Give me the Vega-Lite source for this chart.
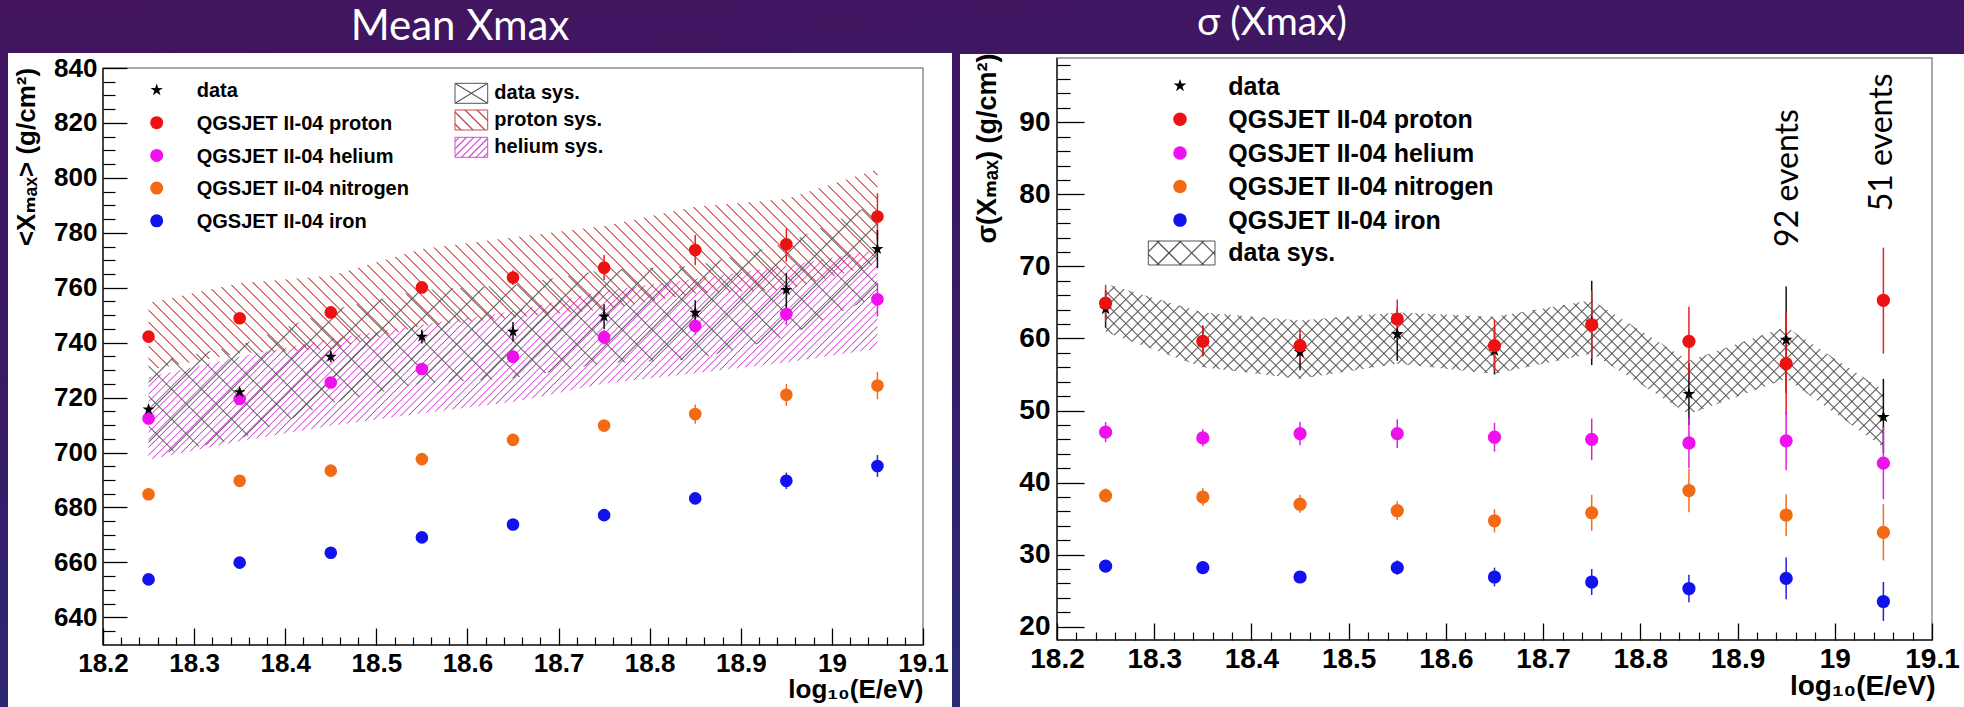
{
"$schema":"https://vega.github.io/schema/vega-lite/v6.json",
"background":"#3d1760",
"autosize":{"type":"none"},
"padding":0,
"width":1964,"height":707,
"config":{"view":{"stroke":null},"axis":{"zindex":1}},
"datasets":{
"mean_points":[
{"series":"QGSJET II-04 proton","x":18.25,"y":742.2,"lo":741.0,"hi":743.4},
{"series":"QGSJET II-04 proton","x":18.35,"y":748.9,"lo":747.7,"hi":750.1},
{"series":"QGSJET II-04 proton","x":18.45,"y":751.0,"lo":749.6,"hi":752.4},
{"series":"QGSJET II-04 proton","x":18.55,"y":760.1,"lo":758.5,"hi":761.7},
{"series":"QGSJET II-04 proton","x":18.65,"y":763.7,"lo":761.0,"hi":766.4},
{"series":"QGSJET II-04 proton","x":18.75,"y":767.3,"lo":762.8,"hi":771.9},
{"series":"QGSJET II-04 proton","x":18.85,"y":773.7,"lo":768.3,"hi":779.2},
{"series":"QGSJET II-04 proton","x":18.95,"y":775.8,"lo":769.5,"hi":781.6},
{"series":"QGSJET II-04 proton","x":19.05,"y":785.9,"lo":777.4,"hi":794.4},
{"series":"QGSJET II-04 helium","x":18.25,"y":712.4,"lo":710.9,"hi":713.9},
{"series":"QGSJET II-04 helium","x":18.35,"y":719.5,"lo":718.0,"hi":721.0},
{"series":"QGSJET II-04 helium","x":18.45,"y":725.5,"lo":723.8,"hi":727.2},
{"series":"QGSJET II-04 helium","x":18.55,"y":730.4,"lo":728.6,"hi":732.2},
{"series":"QGSJET II-04 helium","x":18.65,"y":734.9,"lo":732.6,"hi":737.2},
{"series":"QGSJET II-04 helium","x":18.75,"y":742.0,"lo":739.3,"hi":744.7},
{"series":"QGSJET II-04 helium","x":18.85,"y":746.1,"lo":743.0,"hi":749.2},
{"series":"QGSJET II-04 helium","x":18.95,"y":750.4,"lo":746.5,"hi":754.3},
{"series":"QGSJET II-04 helium","x":19.05,"y":755.8,"lo":749.5,"hi":761.6},
{"series":"QGSJET II-04 nitrogen","x":18.25,"y":684.8,"lo":683.8,"hi":685.8},
{"series":"QGSJET II-04 nitrogen","x":18.35,"y":689.7,"lo":688.6,"hi":690.8},
{"series":"QGSJET II-04 nitrogen","x":18.45,"y":693.4,"lo":692.2,"hi":694.6},
{"series":"QGSJET II-04 nitrogen","x":18.55,"y":697.6,"lo":696.3,"hi":698.9},
{"series":"QGSJET II-04 nitrogen","x":18.65,"y":704.6,"lo":703.2,"hi":706.0},
{"series":"QGSJET II-04 nitrogen","x":18.75,"y":709.8,"lo":707.8,"hi":711.8},
{"series":"QGSJET II-04 nitrogen","x":18.85,"y":714.0,"lo":710.5,"hi":717.5},
{"series":"QGSJET II-04 nitrogen","x":18.95,"y":721.0,"lo":717.0,"hi":725.0},
{"series":"QGSJET II-04 nitrogen","x":19.05,"y":724.4,"lo":719.4,"hi":729.4},
{"series":"QGSJET II-04 iron","x":18.25,"y":653.8,"lo":652.8,"hi":654.8},
{"series":"QGSJET II-04 iron","x":18.35,"y":659.9,"lo":658.9,"hi":660.9},
{"series":"QGSJET II-04 iron","x":18.45,"y":663.5,"lo":662.5,"hi":664.5},
{"series":"QGSJET II-04 iron","x":18.55,"y":669.1,"lo":668.0,"hi":670.2},
{"series":"QGSJET II-04 iron","x":18.65,"y":673.8,"lo":672.6,"hi":675.0},
{"series":"QGSJET II-04 iron","x":18.75,"y":677.2,"lo":675.8,"hi":678.6},
{"series":"QGSJET II-04 iron","x":18.85,"y":683.3,"lo":681.3,"hi":685.3},
{"series":"QGSJET II-04 iron","x":18.95,"y":689.7,"lo":686.7,"hi":692.7},
{"series":"QGSJET II-04 iron","x":19.05,"y":695.1,"lo":691.1,"hi":699.1},
{"series":"data","x":18.25,"y":715.7,"lo":714.2,"hi":717.2},
{"series":"data","x":18.35,"y":722.0,"lo":720.5,"hi":723.5},
{"series":"data","x":18.45,"y":734.9,"lo":732.9,"hi":736.9},
{"series":"data","x":18.55,"y":742.2,"lo":739.7,"hi":744.7},
{"series":"data","x":18.65,"y":744.0,"lo":740.5,"hi":747.5},
{"series":"data","x":18.75,"y":749.5,"lo":745.0,"hi":754.0},
{"series":"data","x":18.85,"y":750.9,"lo":746.4,"hi":755.4},
{"series":"data","x":18.95,"y":759.2,"lo":752.5,"hi":765.3},
{"series":"data","x":19.05,"y":774.1,"lo":767.1,"hi":781.0}
],
"sigma_points":[
{"series":"data","x":18.25,"y":64.1,"lo":61.5,"hi":66.7},
{"series":"data","x":18.35,"y":59.7,"lo":57.6,"hi":61.8},
{"series":"data","x":18.45,"y":58.1,"lo":55.6,"hi":60.6},
{"series":"data","x":18.55,"y":60.6,"lo":56.9,"hi":64.3},
{"series":"data","x":18.65,"y":58.3,"lo":55.0,"hi":61.6},
{"series":"data","x":18.75,"y":62.3,"lo":56.3,"hi":68.0},
{"series":"data","x":18.85,"y":52.3,"lo":48.0,"hi":56.6},
{"series":"data","x":18.95,"y":59.8,"lo":52.4,"hi":67.2},
{"series":"data","x":19.05,"y":49.1,"lo":44.1,"hi":54.4},
{"series":"QGSJET II-04 proton","x":18.25,"y":64.9,"lo":62.3,"hi":67.4},
{"series":"QGSJET II-04 proton","x":18.35,"y":59.6,"lo":57.5,"hi":61.7},
{"series":"QGSJET II-04 proton","x":18.45,"y":59.0,"lo":56.9,"hi":61.3},
{"series":"QGSJET II-04 proton","x":18.55,"y":62.7,"lo":60.1,"hi":65.4},
{"series":"QGSJET II-04 proton","x":18.65,"y":59.0,"lo":55.4,"hi":62.6},
{"series":"QGSJET II-04 proton","x":18.75,"y":61.9,"lo":57.2,"hi":66.6},
{"series":"QGSJET II-04 proton","x":18.85,"y":59.6,"lo":54.7,"hi":64.4},
{"series":"QGSJET II-04 proton","x":18.95,"y":56.5,"lo":49.4,"hi":63.6},
{"series":"QGSJET II-04 proton","x":19.05,"y":65.3,"lo":57.9,"hi":72.6},
{"series":"QGSJET II-04 helium","x":18.25,"y":47.0,"lo":45.6,"hi":48.4},
{"series":"QGSJET II-04 helium","x":18.35,"y":46.2,"lo":45.0,"hi":47.4},
{"series":"QGSJET II-04 helium","x":18.45,"y":46.8,"lo":45.2,"hi":48.4},
{"series":"QGSJET II-04 helium","x":18.55,"y":46.8,"lo":44.8,"hi":48.8},
{"series":"QGSJET II-04 helium","x":18.65,"y":46.3,"lo":44.3,"hi":48.3},
{"series":"QGSJET II-04 helium","x":18.75,"y":46.0,"lo":43.1,"hi":48.9},
{"series":"QGSJET II-04 helium","x":18.85,"y":45.5,"lo":42.0,"hi":49.0},
{"series":"QGSJET II-04 helium","x":18.95,"y":45.8,"lo":41.7,"hi":49.9},
{"series":"QGSJET II-04 helium","x":19.05,"y":42.7,"lo":37.7,"hi":47.7},
{"series":"QGSJET II-04 nitrogen","x":18.25,"y":38.2,"lo":37.2,"hi":39.2},
{"series":"QGSJET II-04 nitrogen","x":18.35,"y":38.0,"lo":36.8,"hi":39.2},
{"series":"QGSJET II-04 nitrogen","x":18.45,"y":37.0,"lo":35.8,"hi":38.3},
{"series":"QGSJET II-04 nitrogen","x":18.55,"y":36.1,"lo":34.8,"hi":37.4},
{"series":"QGSJET II-04 nitrogen","x":18.65,"y":34.7,"lo":33.1,"hi":36.3},
{"series":"QGSJET II-04 nitrogen","x":18.75,"y":35.8,"lo":33.3,"hi":38.3},
{"series":"QGSJET II-04 nitrogen","x":18.85,"y":38.9,"lo":35.9,"hi":41.9},
{"series":"QGSJET II-04 nitrogen","x":18.95,"y":35.5,"lo":32.6,"hi":38.4},
{"series":"QGSJET II-04 nitrogen","x":19.05,"y":33.1,"lo":29.2,"hi":37.0},
{"series":"QGSJET II-04 iron","x":18.25,"y":28.4,"lo":27.9,"hi":28.9},
{"series":"QGSJET II-04 iron","x":18.35,"y":28.2,"lo":27.7,"hi":28.7},
{"series":"QGSJET II-04 iron","x":18.45,"y":26.9,"lo":26.4,"hi":27.4},
{"series":"QGSJET II-04 iron","x":18.55,"y":28.2,"lo":27.2,"hi":29.2},
{"series":"QGSJET II-04 iron","x":18.65,"y":26.9,"lo":25.6,"hi":28.2},
{"series":"QGSJET II-04 iron","x":18.75,"y":26.2,"lo":24.4,"hi":28.0},
{"series":"QGSJET II-04 iron","x":18.85,"y":25.3,"lo":23.4,"hi":27.2},
{"series":"QGSJET II-04 iron","x":18.95,"y":26.7,"lo":23.8,"hi":29.6},
{"series":"QGSJET II-04 iron","x":19.05,"y":23.5,"lo":20.8,"hi":26.2}
],
"mean_data_sys":[
{"x":18.25,"lo":698.7,"hi":732.7},{"x":18.35,"lo":705.0,"hi":739.0},{"x":18.45,"lo":717.9,"hi":751.9},
{"x":18.55,"lo":725.2,"hi":759.2},{"x":18.65,"lo":727.0,"hi":761.0},{"x":18.75,"lo":732.5,"hi":766.5},
{"x":18.85,"lo":733.9,"hi":767.9},{"x":18.95,"lo":742.2,"hi":776.2},{"x":19.05,"lo":757.1,"hi":791.1}
],
"mean_proton_sys":[
{"x":18.25,"lo":730.0,"hi":754.4},{"x":18.35,"lo":736.1,"hi":761.7},{"x":18.45,"lo":737.6,"hi":764.4},
{"x":18.55,"lo":746.1,"hi":774.1},{"x":18.65,"lo":749.1,"hi":778.3},{"x":18.75,"lo":752.1,"hi":782.5},
{"x":18.85,"lo":757.9,"hi":789.5},{"x":18.95,"lo":759.3,"hi":792.3},{"x":19.05,"lo":768.7,"hi":803.1}
],
"mean_helium_sys":[
{"x":18.25,"lo":697.4,"hi":727.4},{"x":18.35,"lo":704.1,"hi":734.9},{"x":18.45,"lo":709.7,"hi":741.3},
{"x":18.55,"lo":714.3,"hi":746.5},{"x":18.65,"lo":718.4,"hi":751.4},{"x":18.75,"lo":725.1,"hi":758.9},
{"x":18.85,"lo":728.9,"hi":763.3},{"x":18.95,"lo":732.8,"hi":768.0},{"x":19.05,"lo":737.8,"hi":773.8}
],
"sigma_data_sys":[
{"x":18.25,"lo":60.9,"hi":67.6},{"x":18.35,"lo":56.0,"hi":63.6},{"x":18.45,"lo":54.4,"hi":62.5},
{"x":18.55,"lo":56.5,"hi":63.6},{"x":18.65,"lo":55.1,"hi":63.0},{"x":18.75,"lo":57.9,"hi":65.3},
{"x":18.85,"lo":49.5,"hi":56.9},{"x":18.95,"lo":54.4,"hi":61.6},{"x":19.05,"lo":44.9,"hi":52.8}
]
},
"resolve":{"scale":{"x":"independent","y":"independent","color":"independent","stroke":"independent"},"axis":{"x":"independent","y":"independent"}},
"layer":[
{
"resolve":{"axis":{"x":"independent","y":"independent"}},
"layer":[
{"data":{"values":[{}]},"mark":{"type":"rect","fill":{"gradient":"linear","x1":0,"y1":0,"x2":0.3,"y2":1,"stops":[{"offset":0,"color":"#43145f"},{"offset":0.5,"color":"#3a1a66"},{"offset":1,"color":"#2a2b74"}]}},"encoding":{"x":{"datum":18.0,"type":"quantitative","scale":{"domain":[18.08695,20.24256],"nice":false,"zero":false},"axis":null},"x2":{"datum":20.4},"y":{"datum":870,"type":"quantitative","scale":{"domain":[607.341,864.759],"nice":false,"zero":false},"axis":null},"y2":{"datum":600}}},
{"data":{"values":[{}]},"mark":{"type":"rect","fill":"#ffffff"},"encoding":{"x":{"datum":18.09573,"type":"quantitative","scale":{"domain":[18.08695,20.24256],"nice":false,"zero":false},"axis":null},"x2":{"datum":19.13183},"y":{"datum":845.46,"type":"quantitative","scale":{"domain":[607.341,864.759],"nice":false,"zero":false},"axis":null},"y2":{"datum":600}}},
{"data":{"name":"mean_helium_sys"},"mark":{"type":"area","fill":{"gradient":"linear","x1":0,"y1":0,"x2":1.2036,"y2":0.3465,"stops":[
{"offset":0,"color":"#d23cd2"},{"offset":0.0012,"color":"rgba(210,60,210,0)"},{"offset":0.0068,"color":"rgba(210,60,210,0)"},
{"offset":0.008,"color":"#d23cd2"},{"offset":0.0092,"color":"rgba(210,60,210,0)"},{"offset":0.0148,"color":"rgba(210,60,210,0)"},
{"offset":0.016,"color":"#d23cd2"},{"offset":0.0172,"color":"rgba(210,60,210,0)"},{"offset":0.0228,"color":"rgba(210,60,210,0)"},
{"offset":0.024,"color":"#d23cd2"},{"offset":0.0252,"color":"rgba(210,60,210,0)"},{"offset":0.0308,"color":"rgba(210,60,210,0)"},
{"offset":0.032,"color":"#d23cd2"},{"offset":0.0332,"color":"rgba(210,60,210,0)"},{"offset":0.0388,"color":"rgba(210,60,210,0)"},
{"offset":0.04,"color":"#d23cd2"},{"offset":0.0412,"color":"rgba(210,60,210,0)"},{"offset":0.0468,"color":"rgba(210,60,210,0)"},
{"offset":0.048,"color":"#d23cd2"},{"offset":0.0492,"color":"rgba(210,60,210,0)"},{"offset":0.0548,"color":"rgba(210,60,210,0)"},
{"offset":0.056,"color":"#d23cd2"},{"offset":0.0572,"color":"rgba(210,60,210,0)"},{"offset":0.0628,"color":"rgba(210,60,210,0)"},
{"offset":0.064,"color":"#d23cd2"},{"offset":0.0652,"color":"rgba(210,60,210,0)"},{"offset":0.0708,"color":"rgba(210,60,210,0)"},
{"offset":0.072,"color":"#d23cd2"},{"offset":0.0732,"color":"rgba(210,60,210,0)"},{"offset":0.0788,"color":"rgba(210,60,210,0)"},
{"offset":0.08,"color":"#d23cd2"},{"offset":0.0812,"color":"rgba(210,60,210,0)"},{"offset":0.0868,"color":"rgba(210,60,210,0)"},
{"offset":0.088,"color":"#d23cd2"},{"offset":0.0892,"color":"rgba(210,60,210,0)"},{"offset":0.0948,"color":"rgba(210,60,210,0)"},
{"offset":0.096,"color":"#d23cd2"},{"offset":0.0972,"color":"rgba(210,60,210,0)"},{"offset":0.1028,"color":"rgba(210,60,210,0)"},
{"offset":0.104,"color":"#d23cd2"},{"offset":0.1052,"color":"rgba(210,60,210,0)"},{"offset":0.1108,"color":"rgba(210,60,210,0)"},
{"offset":0.112,"color":"#d23cd2"},{"offset":0.1132,"color":"rgba(210,60,210,0)"},{"offset":0.1188,"color":"rgba(210,60,210,0)"},
{"offset":0.12,"color":"#d23cd2"},{"offset":0.1212,"color":"rgba(210,60,210,0)"},{"offset":0.1268,"color":"rgba(210,60,210,0)"},
{"offset":0.128,"color":"#d23cd2"},{"offset":0.1292,"color":"rgba(210,60,210,0)"},{"offset":0.1348,"color":"rgba(210,60,210,0)"},
{"offset":0.136,"color":"#d23cd2"},{"offset":0.1372,"color":"rgba(210,60,210,0)"},{"offset":0.1428,"color":"rgba(210,60,210,0)"},
{"offset":0.144,"color":"#d23cd2"},{"offset":0.1452,"color":"rgba(210,60,210,0)"},{"offset":0.1508,"color":"rgba(210,60,210,0)"},
{"offset":0.152,"color":"#d23cd2"},{"offset":0.1532,"color":"rgba(210,60,210,0)"},{"offset":0.1588,"color":"rgba(210,60,210,0)"},
{"offset":0.16,"color":"#d23cd2"},{"offset":0.1612,"color":"rgba(210,60,210,0)"},{"offset":0.1668,"color":"rgba(210,60,210,0)"},
{"offset":0.168,"color":"#d23cd2"},{"offset":0.1692,"color":"rgba(210,60,210,0)"},{"offset":0.1748,"color":"rgba(210,60,210,0)"},
{"offset":0.176,"color":"#d23cd2"},{"offset":0.1772,"color":"rgba(210,60,210,0)"},{"offset":0.1828,"color":"rgba(210,60,210,0)"},
{"offset":0.184,"color":"#d23cd2"},{"offset":0.1852,"color":"rgba(210,60,210,0)"},{"offset":0.1908,"color":"rgba(210,60,210,0)"},
{"offset":0.192,"color":"#d23cd2"},{"offset":0.1932,"color":"rgba(210,60,210,0)"},{"offset":0.1988,"color":"rgba(210,60,210,0)"},
{"offset":0.2,"color":"#d23cd2"},{"offset":0.2012,"color":"rgba(210,60,210,0)"},{"offset":0.2068,"color":"rgba(210,60,210,0)"},
{"offset":0.208,"color":"#d23cd2"},{"offset":0.2092,"color":"rgba(210,60,210,0)"},{"offset":0.2148,"color":"rgba(210,60,210,0)"},
{"offset":0.216,"color":"#d23cd2"},{"offset":0.2172,"color":"rgba(210,60,210,0)"},{"offset":0.2228,"color":"rgba(210,60,210,0)"},
{"offset":0.224,"color":"#d23cd2"},{"offset":0.2252,"color":"rgba(210,60,210,0)"},{"offset":0.2308,"color":"rgba(210,60,210,0)"},
{"offset":0.232,"color":"#d23cd2"},{"offset":0.2332,"color":"rgba(210,60,210,0)"},{"offset":0.2388,"color":"rgba(210,60,210,0)"},
{"offset":0.24,"color":"#d23cd2"},{"offset":0.2412,"color":"rgba(210,60,210,0)"},{"offset":0.2468,"color":"rgba(210,60,210,0)"},
{"offset":0.248,"color":"#d23cd2"},{"offset":0.2492,"color":"rgba(210,60,210,0)"},{"offset":0.2548,"color":"rgba(210,60,210,0)"},
{"offset":0.256,"color":"#d23cd2"},{"offset":0.2572,"color":"rgba(210,60,210,0)"},{"offset":0.2628,"color":"rgba(210,60,210,0)"},
{"offset":0.264,"color":"#d23cd2"},{"offset":0.2652,"color":"rgba(210,60,210,0)"},{"offset":0.2708,"color":"rgba(210,60,210,0)"},
{"offset":0.272,"color":"#d23cd2"},{"offset":0.2732,"color":"rgba(210,60,210,0)"},{"offset":0.2788,"color":"rgba(210,60,210,0)"},
{"offset":0.28,"color":"#d23cd2"},{"offset":0.2812,"color":"rgba(210,60,210,0)"},{"offset":0.2868,"color":"rgba(210,60,210,0)"},
{"offset":0.288,"color":"#d23cd2"},{"offset":0.2892,"color":"rgba(210,60,210,0)"},{"offset":0.2948,"color":"rgba(210,60,210,0)"},
{"offset":0.296,"color":"#d23cd2"},{"offset":0.2972,"color":"rgba(210,60,210,0)"},{"offset":0.3028,"color":"rgba(210,60,210,0)"},
{"offset":0.304,"color":"#d23cd2"},{"offset":0.3052,"color":"rgba(210,60,210,0)"},{"offset":0.3108,"color":"rgba(210,60,210,0)"},
{"offset":0.312,"color":"#d23cd2"},{"offset":0.3132,"color":"rgba(210,60,210,0)"},{"offset":0.3188,"color":"rgba(210,60,210,0)"},
{"offset":0.32,"color":"#d23cd2"},{"offset":0.3212,"color":"rgba(210,60,210,0)"},{"offset":0.3268,"color":"rgba(210,60,210,0)"},
{"offset":0.328,"color":"#d23cd2"},{"offset":0.3292,"color":"rgba(210,60,210,0)"},{"offset":0.3348,"color":"rgba(210,60,210,0)"},
{"offset":0.336,"color":"#d23cd2"},{"offset":0.3372,"color":"rgba(210,60,210,0)"},{"offset":0.3428,"color":"rgba(210,60,210,0)"},
{"offset":0.344,"color":"#d23cd2"},{"offset":0.3452,"color":"rgba(210,60,210,0)"},{"offset":0.3508,"color":"rgba(210,60,210,0)"},
{"offset":0.352,"color":"#d23cd2"},{"offset":0.3532,"color":"rgba(210,60,210,0)"},{"offset":0.3588,"color":"rgba(210,60,210,0)"},
{"offset":0.36,"color":"#d23cd2"},{"offset":0.3612,"color":"rgba(210,60,210,0)"},{"offset":0.3668,"color":"rgba(210,60,210,0)"},
{"offset":0.368,"color":"#d23cd2"},{"offset":0.3692,"color":"rgba(210,60,210,0)"},{"offset":0.3748,"color":"rgba(210,60,210,0)"},
{"offset":0.376,"color":"#d23cd2"},{"offset":0.3772,"color":"rgba(210,60,210,0)"},{"offset":0.3828,"color":"rgba(210,60,210,0)"},
{"offset":0.384,"color":"#d23cd2"},{"offset":0.3852,"color":"rgba(210,60,210,0)"},{"offset":0.3908,"color":"rgba(210,60,210,0)"},
{"offset":0.392,"color":"#d23cd2"},{"offset":0.3932,"color":"rgba(210,60,210,0)"},{"offset":0.3988,"color":"rgba(210,60,210,0)"},
{"offset":0.4,"color":"#d23cd2"},{"offset":0.4012,"color":"rgba(210,60,210,0)"},{"offset":0.4068,"color":"rgba(210,60,210,0)"},
{"offset":0.408,"color":"#d23cd2"},{"offset":0.4092,"color":"rgba(210,60,210,0)"},{"offset":0.4148,"color":"rgba(210,60,210,0)"},
{"offset":0.416,"color":"#d23cd2"},{"offset":0.4172,"color":"rgba(210,60,210,0)"},{"offset":0.4228,"color":"rgba(210,60,210,0)"},
{"offset":0.424,"color":"#d23cd2"},{"offset":0.4252,"color":"rgba(210,60,210,0)"},{"offset":0.4308,"color":"rgba(210,60,210,0)"},
{"offset":0.432,"color":"#d23cd2"},{"offset":0.4332,"color":"rgba(210,60,210,0)"},{"offset":0.4388,"color":"rgba(210,60,210,0)"},
{"offset":0.44,"color":"#d23cd2"},{"offset":0.4412,"color":"rgba(210,60,210,0)"},{"offset":0.4468,"color":"rgba(210,60,210,0)"},
{"offset":0.448,"color":"#d23cd2"},{"offset":0.4492,"color":"rgba(210,60,210,0)"},{"offset":0.4548,"color":"rgba(210,60,210,0)"},
{"offset":0.456,"color":"#d23cd2"},{"offset":0.4572,"color":"rgba(210,60,210,0)"},{"offset":0.4628,"color":"rgba(210,60,210,0)"},
{"offset":0.464,"color":"#d23cd2"},{"offset":0.4652,"color":"rgba(210,60,210,0)"},{"offset":0.4708,"color":"rgba(210,60,210,0)"},
{"offset":0.472,"color":"#d23cd2"},{"offset":0.4732,"color":"rgba(210,60,210,0)"},{"offset":0.4788,"color":"rgba(210,60,210,0)"},
{"offset":0.48,"color":"#d23cd2"},{"offset":0.4812,"color":"rgba(210,60,210,0)"},{"offset":0.4868,"color":"rgba(210,60,210,0)"},
{"offset":0.488,"color":"#d23cd2"},{"offset":0.4892,"color":"rgba(210,60,210,0)"},{"offset":0.4948,"color":"rgba(210,60,210,0)"},
{"offset":0.496,"color":"#d23cd2"},{"offset":0.4972,"color":"rgba(210,60,210,0)"},{"offset":0.5028,"color":"rgba(210,60,210,0)"},
{"offset":0.504,"color":"#d23cd2"},{"offset":0.5052,"color":"rgba(210,60,210,0)"},{"offset":0.5108,"color":"rgba(210,60,210,0)"},
{"offset":0.512,"color":"#d23cd2"},{"offset":0.5132,"color":"rgba(210,60,210,0)"},{"offset":0.5188,"color":"rgba(210,60,210,0)"},
{"offset":0.52,"color":"#d23cd2"},{"offset":0.5212,"color":"rgba(210,60,210,0)"},{"offset":0.5268,"color":"rgba(210,60,210,0)"},
{"offset":0.528,"color":"#d23cd2"},{"offset":0.5292,"color":"rgba(210,60,210,0)"},{"offset":0.5348,"color":"rgba(210,60,210,0)"},
{"offset":0.536,"color":"#d23cd2"},{"offset":0.5372,"color":"rgba(210,60,210,0)"},{"offset":0.5428,"color":"rgba(210,60,210,0)"},
{"offset":0.544,"color":"#d23cd2"},{"offset":0.5452,"color":"rgba(210,60,210,0)"},{"offset":0.5508,"color":"rgba(210,60,210,0)"},
{"offset":0.552,"color":"#d23cd2"},{"offset":0.5532,"color":"rgba(210,60,210,0)"},{"offset":0.5588,"color":"rgba(210,60,210,0)"},
{"offset":0.56,"color":"#d23cd2"},{"offset":0.5612,"color":"rgba(210,60,210,0)"},{"offset":0.5668,"color":"rgba(210,60,210,0)"},
{"offset":0.568,"color":"#d23cd2"},{"offset":0.5692,"color":"rgba(210,60,210,0)"},{"offset":0.5748,"color":"rgba(210,60,210,0)"},
{"offset":0.576,"color":"#d23cd2"},{"offset":0.5772,"color":"rgba(210,60,210,0)"},{"offset":0.5828,"color":"rgba(210,60,210,0)"},
{"offset":0.584,"color":"#d23cd2"},{"offset":0.5852,"color":"rgba(210,60,210,0)"},{"offset":0.5908,"color":"rgba(210,60,210,0)"},
{"offset":0.592,"color":"#d23cd2"},{"offset":0.5932,"color":"rgba(210,60,210,0)"},{"offset":0.5988,"color":"rgba(210,60,210,0)"},
{"offset":0.6,"color":"#d23cd2"},{"offset":0.6012,"color":"rgba(210,60,210,0)"},{"offset":0.6068,"color":"rgba(210,60,210,0)"},
{"offset":0.608,"color":"#d23cd2"},{"offset":0.6092,"color":"rgba(210,60,210,0)"},{"offset":0.6148,"color":"rgba(210,60,210,0)"},
{"offset":0.616,"color":"#d23cd2"},{"offset":0.6172,"color":"rgba(210,60,210,0)"},{"offset":0.6228,"color":"rgba(210,60,210,0)"},
{"offset":0.624,"color":"#d23cd2"},{"offset":0.6252,"color":"rgba(210,60,210,0)"},{"offset":0.6308,"color":"rgba(210,60,210,0)"},
{"offset":0.632,"color":"#d23cd2"},{"offset":0.6332,"color":"rgba(210,60,210,0)"},{"offset":0.6388,"color":"rgba(210,60,210,0)"},
{"offset":0.64,"color":"#d23cd2"},{"offset":0.6412,"color":"rgba(210,60,210,0)"},{"offset":0.6468,"color":"rgba(210,60,210,0)"},
{"offset":0.648,"color":"#d23cd2"},{"offset":0.6492,"color":"rgba(210,60,210,0)"},{"offset":0.6548,"color":"rgba(210,60,210,0)"},
{"offset":0.656,"color":"#d23cd2"},{"offset":0.6572,"color":"rgba(210,60,210,0)"},{"offset":0.6628,"color":"rgba(210,60,210,0)"},
{"offset":0.664,"color":"#d23cd2"},{"offset":0.6652,"color":"rgba(210,60,210,0)"},{"offset":0.6708,"color":"rgba(210,60,210,0)"},
{"offset":0.672,"color":"#d23cd2"},{"offset":0.6732,"color":"rgba(210,60,210,0)"},{"offset":0.6788,"color":"rgba(210,60,210,0)"},
{"offset":0.68,"color":"#d23cd2"},{"offset":0.6812,"color":"rgba(210,60,210,0)"},{"offset":0.6868,"color":"rgba(210,60,210,0)"},
{"offset":0.688,"color":"#d23cd2"},{"offset":0.6892,"color":"rgba(210,60,210,0)"},{"offset":0.6948,"color":"rgba(210,60,210,0)"},
{"offset":0.696,"color":"#d23cd2"},{"offset":0.6972,"color":"rgba(210,60,210,0)"},{"offset":0.7028,"color":"rgba(210,60,210,0)"},
{"offset":0.704,"color":"#d23cd2"},{"offset":0.7052,"color":"rgba(210,60,210,0)"},{"offset":0.7108,"color":"rgba(210,60,210,0)"},
{"offset":0.712,"color":"#d23cd2"},{"offset":0.7132,"color":"rgba(210,60,210,0)"},{"offset":0.7188,"color":"rgba(210,60,210,0)"},
{"offset":0.72,"color":"#d23cd2"},{"offset":0.7212,"color":"rgba(210,60,210,0)"},{"offset":0.7268,"color":"rgba(210,60,210,0)"},
{"offset":0.728,"color":"#d23cd2"},{"offset":0.7292,"color":"rgba(210,60,210,0)"},{"offset":0.7348,"color":"rgba(210,60,210,0)"},
{"offset":0.736,"color":"#d23cd2"},{"offset":0.7372,"color":"rgba(210,60,210,0)"},{"offset":0.7428,"color":"rgba(210,60,210,0)"},
{"offset":0.744,"color":"#d23cd2"},{"offset":0.7452,"color":"rgba(210,60,210,0)"},{"offset":0.7508,"color":"rgba(210,60,210,0)"},
{"offset":0.752,"color":"#d23cd2"},{"offset":0.7532,"color":"rgba(210,60,210,0)"},{"offset":0.7588,"color":"rgba(210,60,210,0)"},
{"offset":0.76,"color":"#d23cd2"},{"offset":0.7612,"color":"rgba(210,60,210,0)"},{"offset":0.7668,"color":"rgba(210,60,210,0)"},
{"offset":0.768,"color":"#d23cd2"},{"offset":0.7692,"color":"rgba(210,60,210,0)"},{"offset":0.7748,"color":"rgba(210,60,210,0)"},
{"offset":0.776,"color":"#d23cd2"},{"offset":0.7772,"color":"rgba(210,60,210,0)"},{"offset":0.7828,"color":"rgba(210,60,210,0)"},
{"offset":0.784,"color":"#d23cd2"},{"offset":0.7852,"color":"rgba(210,60,210,0)"},{"offset":0.7908,"color":"rgba(210,60,210,0)"},
{"offset":0.792,"color":"#d23cd2"},{"offset":0.7932,"color":"rgba(210,60,210,0)"},{"offset":0.7988,"color":"rgba(210,60,210,0)"},
{"offset":0.8,"color":"#d23cd2"},{"offset":0.8012,"color":"rgba(210,60,210,0)"},{"offset":0.8068,"color":"rgba(210,60,210,0)"},
{"offset":0.808,"color":"#d23cd2"},{"offset":0.8092,"color":"rgba(210,60,210,0)"},{"offset":0.8148,"color":"rgba(210,60,210,0)"},
{"offset":0.816,"color":"#d23cd2"},{"offset":0.8172,"color":"rgba(210,60,210,0)"},{"offset":0.8228,"color":"rgba(210,60,210,0)"},
{"offset":0.824,"color":"#d23cd2"},{"offset":0.8252,"color":"rgba(210,60,210,0)"},{"offset":0.8308,"color":"rgba(210,60,210,0)"},
{"offset":0.832,"color":"#d23cd2"},{"offset":0.8332,"color":"rgba(210,60,210,0)"},{"offset":0.8388,"color":"rgba(210,60,210,0)"},
{"offset":0.84,"color":"#d23cd2"},{"offset":0.8412,"color":"rgba(210,60,210,0)"},{"offset":0.8468,"color":"rgba(210,60,210,0)"},
{"offset":0.848,"color":"#d23cd2"},{"offset":0.8492,"color":"rgba(210,60,210,0)"},{"offset":0.8548,"color":"rgba(210,60,210,0)"},
{"offset":0.856,"color":"#d23cd2"},{"offset":0.8572,"color":"rgba(210,60,210,0)"},{"offset":0.8628,"color":"rgba(210,60,210,0)"},
{"offset":0.864,"color":"#d23cd2"},{"offset":0.8652,"color":"rgba(210,60,210,0)"},{"offset":0.8708,"color":"rgba(210,60,210,0)"},
{"offset":0.872,"color":"#d23cd2"},{"offset":0.8732,"color":"rgba(210,60,210,0)"},{"offset":0.8788,"color":"rgba(210,60,210,0)"},
{"offset":0.88,"color":"#d23cd2"},{"offset":0.8812,"color":"rgba(210,60,210,0)"},{"offset":0.8868,"color":"rgba(210,60,210,0)"},
{"offset":0.888,"color":"#d23cd2"},{"offset":0.8892,"color":"rgba(210,60,210,0)"},{"offset":0.8948,"color":"rgba(210,60,210,0)"},
{"offset":0.896,"color":"#d23cd2"},{"offset":0.8972,"color":"rgba(210,60,210,0)"},{"offset":0.9028,"color":"rgba(210,60,210,0)"},
{"offset":0.904,"color":"#d23cd2"},{"offset":0.9052,"color":"rgba(210,60,210,0)"},{"offset":0.9108,"color":"rgba(210,60,210,0)"},
{"offset":0.912,"color":"#d23cd2"},{"offset":0.9132,"color":"rgba(210,60,210,0)"},{"offset":0.9188,"color":"rgba(210,60,210,0)"},
{"offset":0.92,"color":"#d23cd2"},{"offset":0.9212,"color":"rgba(210,60,210,0)"},{"offset":0.9268,"color":"rgba(210,60,210,0)"},
{"offset":0.928,"color":"#d23cd2"},{"offset":0.9292,"color":"rgba(210,60,210,0)"},{"offset":0.9348,"color":"rgba(210,60,210,0)"},
{"offset":0.936,"color":"#d23cd2"},{"offset":0.9372,"color":"rgba(210,60,210,0)"},{"offset":0.9428,"color":"rgba(210,60,210,0)"},
{"offset":0.944,"color":"#d23cd2"},{"offset":0.9452,"color":"rgba(210,60,210,0)"},{"offset":0.9508,"color":"rgba(210,60,210,0)"},
{"offset":0.952,"color":"#d23cd2"},{"offset":0.9532,"color":"rgba(210,60,210,0)"},{"offset":0.9588,"color":"rgba(210,60,210,0)"},
{"offset":0.96,"color":"#d23cd2"},{"offset":0.9612,"color":"rgba(210,60,210,0)"},{"offset":0.9668,"color":"rgba(210,60,210,0)"},
{"offset":0.968,"color":"#d23cd2"},{"offset":0.9692,"color":"rgba(210,60,210,0)"},{"offset":0.9748,"color":"rgba(210,60,210,0)"},
{"offset":0.976,"color":"#d23cd2"},{"offset":0.9772,"color":"rgba(210,60,210,0)"},{"offset":0.9828,"color":"rgba(210,60,210,0)"},
{"offset":0.984,"color":"#d23cd2"},{"offset":0.9852,"color":"rgba(210,60,210,0)"},{"offset":1,"color":"rgba(210,60,210,0)"}]}},"encoding":{"x":{"field":"x","type":"quantitative","scale":{"domain":[18.08695,20.24256],"nice":false,"zero":false},"axis":null},"y":{"field":"lo","type":"quantitative","scale":{"domain":[607.341,864.759],"nice":false,"zero":false},"axis":null},"y2":{"field":"hi"}}},
{"data":{"name":"mean_proton_sys"},"mark":{"type":"area","fill":{"gradient":"linear","x1":0,"y1":1,"x2":1.2242,"y2":0.6628,"stops":[
{"offset":0,"color":"#c03030"},{"offset":0.0015,"color":"rgba(192,48,48,0)"},{"offset":0.011,"color":"rgba(192,48,48,0)"},
{"offset":0.0125,"color":"#c03030"},{"offset":0.014,"color":"rgba(192,48,48,0)"},{"offset":0.0235,"color":"rgba(192,48,48,0)"},
{"offset":0.025,"color":"#c03030"},{"offset":0.0265,"color":"rgba(192,48,48,0)"},{"offset":0.036,"color":"rgba(192,48,48,0)"},
{"offset":0.0375,"color":"#c03030"},{"offset":0.039,"color":"rgba(192,48,48,0)"},{"offset":0.0485,"color":"rgba(192,48,48,0)"},
{"offset":0.05,"color":"#c03030"},{"offset":0.0515,"color":"rgba(192,48,48,0)"},{"offset":0.061,"color":"rgba(192,48,48,0)"},
{"offset":0.0625,"color":"#c03030"},{"offset":0.064,"color":"rgba(192,48,48,0)"},{"offset":0.0735,"color":"rgba(192,48,48,0)"},
{"offset":0.075,"color":"#c03030"},{"offset":0.0765,"color":"rgba(192,48,48,0)"},{"offset":0.086,"color":"rgba(192,48,48,0)"},
{"offset":0.0875,"color":"#c03030"},{"offset":0.089,"color":"rgba(192,48,48,0)"},{"offset":0.0985,"color":"rgba(192,48,48,0)"},
{"offset":0.1,"color":"#c03030"},{"offset":0.1015,"color":"rgba(192,48,48,0)"},{"offset":0.111,"color":"rgba(192,48,48,0)"},
{"offset":0.1125,"color":"#c03030"},{"offset":0.114,"color":"rgba(192,48,48,0)"},{"offset":0.1235,"color":"rgba(192,48,48,0)"},
{"offset":0.125,"color":"#c03030"},{"offset":0.1265,"color":"rgba(192,48,48,0)"},{"offset":0.136,"color":"rgba(192,48,48,0)"},
{"offset":0.1375,"color":"#c03030"},{"offset":0.139,"color":"rgba(192,48,48,0)"},{"offset":0.1485,"color":"rgba(192,48,48,0)"},
{"offset":0.15,"color":"#c03030"},{"offset":0.1515,"color":"rgba(192,48,48,0)"},{"offset":0.161,"color":"rgba(192,48,48,0)"},
{"offset":0.1625,"color":"#c03030"},{"offset":0.164,"color":"rgba(192,48,48,0)"},{"offset":0.1735,"color":"rgba(192,48,48,0)"},
{"offset":0.175,"color":"#c03030"},{"offset":0.1765,"color":"rgba(192,48,48,0)"},{"offset":0.186,"color":"rgba(192,48,48,0)"},
{"offset":0.1875,"color":"#c03030"},{"offset":0.189,"color":"rgba(192,48,48,0)"},{"offset":0.1985,"color":"rgba(192,48,48,0)"},
{"offset":0.2,"color":"#c03030"},{"offset":0.2015,"color":"rgba(192,48,48,0)"},{"offset":0.211,"color":"rgba(192,48,48,0)"},
{"offset":0.2125,"color":"#c03030"},{"offset":0.214,"color":"rgba(192,48,48,0)"},{"offset":0.2235,"color":"rgba(192,48,48,0)"},
{"offset":0.225,"color":"#c03030"},{"offset":0.2265,"color":"rgba(192,48,48,0)"},{"offset":0.236,"color":"rgba(192,48,48,0)"},
{"offset":0.2375,"color":"#c03030"},{"offset":0.239,"color":"rgba(192,48,48,0)"},{"offset":0.2485,"color":"rgba(192,48,48,0)"},
{"offset":0.25,"color":"#c03030"},{"offset":0.2515,"color":"rgba(192,48,48,0)"},{"offset":0.261,"color":"rgba(192,48,48,0)"},
{"offset":0.2625,"color":"#c03030"},{"offset":0.264,"color":"rgba(192,48,48,0)"},{"offset":0.2735,"color":"rgba(192,48,48,0)"},
{"offset":0.275,"color":"#c03030"},{"offset":0.2765,"color":"rgba(192,48,48,0)"},{"offset":0.286,"color":"rgba(192,48,48,0)"},
{"offset":0.2875,"color":"#c03030"},{"offset":0.289,"color":"rgba(192,48,48,0)"},{"offset":0.2985,"color":"rgba(192,48,48,0)"},
{"offset":0.3,"color":"#c03030"},{"offset":0.3015,"color":"rgba(192,48,48,0)"},{"offset":0.311,"color":"rgba(192,48,48,0)"},
{"offset":0.3125,"color":"#c03030"},{"offset":0.314,"color":"rgba(192,48,48,0)"},{"offset":0.3235,"color":"rgba(192,48,48,0)"},
{"offset":0.325,"color":"#c03030"},{"offset":0.3265,"color":"rgba(192,48,48,0)"},{"offset":0.336,"color":"rgba(192,48,48,0)"},
{"offset":0.3375,"color":"#c03030"},{"offset":0.339,"color":"rgba(192,48,48,0)"},{"offset":0.3485,"color":"rgba(192,48,48,0)"},
{"offset":0.35,"color":"#c03030"},{"offset":0.3515,"color":"rgba(192,48,48,0)"},{"offset":0.361,"color":"rgba(192,48,48,0)"},
{"offset":0.3625,"color":"#c03030"},{"offset":0.364,"color":"rgba(192,48,48,0)"},{"offset":0.3735,"color":"rgba(192,48,48,0)"},
{"offset":0.375,"color":"#c03030"},{"offset":0.3765,"color":"rgba(192,48,48,0)"},{"offset":0.386,"color":"rgba(192,48,48,0)"},
{"offset":0.3875,"color":"#c03030"},{"offset":0.389,"color":"rgba(192,48,48,0)"},{"offset":0.3985,"color":"rgba(192,48,48,0)"},
{"offset":0.4,"color":"#c03030"},{"offset":0.4015,"color":"rgba(192,48,48,0)"},{"offset":0.411,"color":"rgba(192,48,48,0)"},
{"offset":0.4125,"color":"#c03030"},{"offset":0.414,"color":"rgba(192,48,48,0)"},{"offset":0.4235,"color":"rgba(192,48,48,0)"},
{"offset":0.425,"color":"#c03030"},{"offset":0.4265,"color":"rgba(192,48,48,0)"},{"offset":0.436,"color":"rgba(192,48,48,0)"},
{"offset":0.4375,"color":"#c03030"},{"offset":0.439,"color":"rgba(192,48,48,0)"},{"offset":0.4485,"color":"rgba(192,48,48,0)"},
{"offset":0.45,"color":"#c03030"},{"offset":0.4515,"color":"rgba(192,48,48,0)"},{"offset":0.461,"color":"rgba(192,48,48,0)"},
{"offset":0.4625,"color":"#c03030"},{"offset":0.464,"color":"rgba(192,48,48,0)"},{"offset":0.4735,"color":"rgba(192,48,48,0)"},
{"offset":0.475,"color":"#c03030"},{"offset":0.4765,"color":"rgba(192,48,48,0)"},{"offset":0.486,"color":"rgba(192,48,48,0)"},
{"offset":0.4875,"color":"#c03030"},{"offset":0.489,"color":"rgba(192,48,48,0)"},{"offset":0.4985,"color":"rgba(192,48,48,0)"},
{"offset":0.5,"color":"#c03030"},{"offset":0.5015,"color":"rgba(192,48,48,0)"},{"offset":0.511,"color":"rgba(192,48,48,0)"},
{"offset":0.5125,"color":"#c03030"},{"offset":0.514,"color":"rgba(192,48,48,0)"},{"offset":0.5235,"color":"rgba(192,48,48,0)"},
{"offset":0.525,"color":"#c03030"},{"offset":0.5265,"color":"rgba(192,48,48,0)"},{"offset":0.536,"color":"rgba(192,48,48,0)"},
{"offset":0.5375,"color":"#c03030"},{"offset":0.539,"color":"rgba(192,48,48,0)"},{"offset":0.5485,"color":"rgba(192,48,48,0)"},
{"offset":0.55,"color":"#c03030"},{"offset":0.5515,"color":"rgba(192,48,48,0)"},{"offset":0.561,"color":"rgba(192,48,48,0)"},
{"offset":0.5625,"color":"#c03030"},{"offset":0.564,"color":"rgba(192,48,48,0)"},{"offset":0.5735,"color":"rgba(192,48,48,0)"},
{"offset":0.575,"color":"#c03030"},{"offset":0.5765,"color":"rgba(192,48,48,0)"},{"offset":0.586,"color":"rgba(192,48,48,0)"},
{"offset":0.5875,"color":"#c03030"},{"offset":0.589,"color":"rgba(192,48,48,0)"},{"offset":0.5985,"color":"rgba(192,48,48,0)"},
{"offset":0.6,"color":"#c03030"},{"offset":0.6015,"color":"rgba(192,48,48,0)"},{"offset":0.611,"color":"rgba(192,48,48,0)"},
{"offset":0.6125,"color":"#c03030"},{"offset":0.614,"color":"rgba(192,48,48,0)"},{"offset":0.6235,"color":"rgba(192,48,48,0)"},
{"offset":0.625,"color":"#c03030"},{"offset":0.6265,"color":"rgba(192,48,48,0)"},{"offset":0.636,"color":"rgba(192,48,48,0)"},
{"offset":0.6375,"color":"#c03030"},{"offset":0.639,"color":"rgba(192,48,48,0)"},{"offset":0.6485,"color":"rgba(192,48,48,0)"},
{"offset":0.65,"color":"#c03030"},{"offset":0.6515,"color":"rgba(192,48,48,0)"},{"offset":0.661,"color":"rgba(192,48,48,0)"},
{"offset":0.6625,"color":"#c03030"},{"offset":0.664,"color":"rgba(192,48,48,0)"},{"offset":0.6735,"color":"rgba(192,48,48,0)"},
{"offset":0.675,"color":"#c03030"},{"offset":0.6765,"color":"rgba(192,48,48,0)"},{"offset":0.686,"color":"rgba(192,48,48,0)"},
{"offset":0.6875,"color":"#c03030"},{"offset":0.689,"color":"rgba(192,48,48,0)"},{"offset":0.6985,"color":"rgba(192,48,48,0)"},
{"offset":0.7,"color":"#c03030"},{"offset":0.7015,"color":"rgba(192,48,48,0)"},{"offset":0.711,"color":"rgba(192,48,48,0)"},
{"offset":0.7125,"color":"#c03030"},{"offset":0.714,"color":"rgba(192,48,48,0)"},{"offset":0.7235,"color":"rgba(192,48,48,0)"},
{"offset":0.725,"color":"#c03030"},{"offset":0.7265,"color":"rgba(192,48,48,0)"},{"offset":0.736,"color":"rgba(192,48,48,0)"},
{"offset":0.7375,"color":"#c03030"},{"offset":0.739,"color":"rgba(192,48,48,0)"},{"offset":0.7485,"color":"rgba(192,48,48,0)"},
{"offset":0.75,"color":"#c03030"},{"offset":0.7515,"color":"rgba(192,48,48,0)"},{"offset":0.761,"color":"rgba(192,48,48,0)"},
{"offset":0.7625,"color":"#c03030"},{"offset":0.764,"color":"rgba(192,48,48,0)"},{"offset":0.7735,"color":"rgba(192,48,48,0)"},
{"offset":0.775,"color":"#c03030"},{"offset":0.7765,"color":"rgba(192,48,48,0)"},{"offset":0.786,"color":"rgba(192,48,48,0)"},
{"offset":0.7875,"color":"#c03030"},{"offset":0.789,"color":"rgba(192,48,48,0)"},{"offset":0.7985,"color":"rgba(192,48,48,0)"},
{"offset":0.8,"color":"#c03030"},{"offset":0.8015,"color":"rgba(192,48,48,0)"},{"offset":0.811,"color":"rgba(192,48,48,0)"},
{"offset":0.8125,"color":"#c03030"},{"offset":0.814,"color":"rgba(192,48,48,0)"},{"offset":0.8235,"color":"rgba(192,48,48,0)"},
{"offset":0.825,"color":"#c03030"},{"offset":0.8265,"color":"rgba(192,48,48,0)"},{"offset":0.836,"color":"rgba(192,48,48,0)"},
{"offset":0.8375,"color":"#c03030"},{"offset":0.839,"color":"rgba(192,48,48,0)"},{"offset":0.8485,"color":"rgba(192,48,48,0)"},
{"offset":0.85,"color":"#c03030"},{"offset":0.8515,"color":"rgba(192,48,48,0)"},{"offset":0.861,"color":"rgba(192,48,48,0)"},
{"offset":0.8625,"color":"#c03030"},{"offset":0.864,"color":"rgba(192,48,48,0)"},{"offset":0.8735,"color":"rgba(192,48,48,0)"},
{"offset":0.875,"color":"#c03030"},{"offset":0.8765,"color":"rgba(192,48,48,0)"},{"offset":0.886,"color":"rgba(192,48,48,0)"},
{"offset":0.8875,"color":"#c03030"},{"offset":0.889,"color":"rgba(192,48,48,0)"},{"offset":0.8985,"color":"rgba(192,48,48,0)"},
{"offset":0.9,"color":"#c03030"},{"offset":0.9015,"color":"rgba(192,48,48,0)"},{"offset":0.911,"color":"rgba(192,48,48,0)"},
{"offset":0.9125,"color":"#c03030"},{"offset":0.914,"color":"rgba(192,48,48,0)"},{"offset":0.9235,"color":"rgba(192,48,48,0)"},
{"offset":0.925,"color":"#c03030"},{"offset":0.9265,"color":"rgba(192,48,48,0)"},{"offset":0.936,"color":"rgba(192,48,48,0)"},
{"offset":0.9375,"color":"#c03030"},{"offset":0.939,"color":"rgba(192,48,48,0)"},{"offset":0.9485,"color":"rgba(192,48,48,0)"},
{"offset":0.95,"color":"#c03030"},{"offset":0.9515,"color":"rgba(192,48,48,0)"},{"offset":0.961,"color":"rgba(192,48,48,0)"},
{"offset":0.9625,"color":"#c03030"},{"offset":0.964,"color":"rgba(192,48,48,0)"},{"offset":1,"color":"rgba(192,48,48,0)"}]}},"encoding":{"x":{"field":"x","type":"quantitative","scale":{"domain":[18.08695,20.24256],"nice":false,"zero":false},"axis":null},"y":{"field":"lo","type":"quantitative","scale":{"domain":[607.341,864.759],"nice":false,"zero":false},"axis":null},"y2":{"field":"hi"}}},
{"data":{"name":"mean_data_sys"},"mark":{"type":"area","fill":{"gradient":"linear","x1":0,"y1":0,"x2":1.4683,"y2":0.5113,"stops":[
{"offset":0,"color":"#5a5a5a"},{"offset":0.0012,"color":"rgba(90,90,90,0)"},{"offset":0.0238,"color":"rgba(90,90,90,0)"},
{"offset":0.025,"color":"#5a5a5a"},{"offset":0.0262,"color":"rgba(90,90,90,0)"},{"offset":0.0488,"color":"rgba(90,90,90,0)"},
{"offset":0.05,"color":"#5a5a5a"},{"offset":0.0512,"color":"rgba(90,90,90,0)"},{"offset":0.0738,"color":"rgba(90,90,90,0)"},
{"offset":0.075,"color":"#5a5a5a"},{"offset":0.0762,"color":"rgba(90,90,90,0)"},{"offset":0.0988,"color":"rgba(90,90,90,0)"},
{"offset":0.1,"color":"#5a5a5a"},{"offset":0.1012,"color":"rgba(90,90,90,0)"},{"offset":0.1238,"color":"rgba(90,90,90,0)"},
{"offset":0.125,"color":"#5a5a5a"},{"offset":0.1262,"color":"rgba(90,90,90,0)"},{"offset":0.1488,"color":"rgba(90,90,90,0)"},
{"offset":0.15,"color":"#5a5a5a"},{"offset":0.1512,"color":"rgba(90,90,90,0)"},{"offset":0.1738,"color":"rgba(90,90,90,0)"},
{"offset":0.175,"color":"#5a5a5a"},{"offset":0.1762,"color":"rgba(90,90,90,0)"},{"offset":0.1988,"color":"rgba(90,90,90,0)"},
{"offset":0.2,"color":"#5a5a5a"},{"offset":0.2012,"color":"rgba(90,90,90,0)"},{"offset":0.2238,"color":"rgba(90,90,90,0)"},
{"offset":0.225,"color":"#5a5a5a"},{"offset":0.2262,"color":"rgba(90,90,90,0)"},{"offset":0.2488,"color":"rgba(90,90,90,0)"},
{"offset":0.25,"color":"#5a5a5a"},{"offset":0.2512,"color":"rgba(90,90,90,0)"},{"offset":0.2738,"color":"rgba(90,90,90,0)"},
{"offset":0.275,"color":"#5a5a5a"},{"offset":0.2762,"color":"rgba(90,90,90,0)"},{"offset":0.2988,"color":"rgba(90,90,90,0)"},
{"offset":0.3,"color":"#5a5a5a"},{"offset":0.3012,"color":"rgba(90,90,90,0)"},{"offset":0.3238,"color":"rgba(90,90,90,0)"},
{"offset":0.325,"color":"#5a5a5a"},{"offset":0.3262,"color":"rgba(90,90,90,0)"},{"offset":0.3488,"color":"rgba(90,90,90,0)"},
{"offset":0.35,"color":"#5a5a5a"},{"offset":0.3512,"color":"rgba(90,90,90,0)"},{"offset":0.3738,"color":"rgba(90,90,90,0)"},
{"offset":0.375,"color":"#5a5a5a"},{"offset":0.3762,"color":"rgba(90,90,90,0)"},{"offset":0.3988,"color":"rgba(90,90,90,0)"},
{"offset":0.4,"color":"#5a5a5a"},{"offset":0.4012,"color":"rgba(90,90,90,0)"},{"offset":0.4238,"color":"rgba(90,90,90,0)"},
{"offset":0.425,"color":"#5a5a5a"},{"offset":0.4262,"color":"rgba(90,90,90,0)"},{"offset":0.4488,"color":"rgba(90,90,90,0)"},
{"offset":0.45,"color":"#5a5a5a"},{"offset":0.4512,"color":"rgba(90,90,90,0)"},{"offset":0.4738,"color":"rgba(90,90,90,0)"},
{"offset":0.475,"color":"#5a5a5a"},{"offset":0.4762,"color":"rgba(90,90,90,0)"},{"offset":0.4988,"color":"rgba(90,90,90,0)"},
{"offset":0.5,"color":"#5a5a5a"},{"offset":0.5012,"color":"rgba(90,90,90,0)"},{"offset":0.5238,"color":"rgba(90,90,90,0)"},
{"offset":0.525,"color":"#5a5a5a"},{"offset":0.5262,"color":"rgba(90,90,90,0)"},{"offset":0.5488,"color":"rgba(90,90,90,0)"},
{"offset":0.55,"color":"#5a5a5a"},{"offset":0.5512,"color":"rgba(90,90,90,0)"},{"offset":0.5738,"color":"rgba(90,90,90,0)"},
{"offset":0.575,"color":"#5a5a5a"},{"offset":0.5762,"color":"rgba(90,90,90,0)"},{"offset":0.5988,"color":"rgba(90,90,90,0)"},
{"offset":0.6,"color":"#5a5a5a"},{"offset":0.6012,"color":"rgba(90,90,90,0)"},{"offset":0.6238,"color":"rgba(90,90,90,0)"},
{"offset":0.625,"color":"#5a5a5a"},{"offset":0.6262,"color":"rgba(90,90,90,0)"},{"offset":0.6488,"color":"rgba(90,90,90,0)"},
{"offset":0.65,"color":"#5a5a5a"},{"offset":0.6512,"color":"rgba(90,90,90,0)"},{"offset":0.6738,"color":"rgba(90,90,90,0)"},
{"offset":0.675,"color":"#5a5a5a"},{"offset":0.6762,"color":"rgba(90,90,90,0)"},{"offset":0.6988,"color":"rgba(90,90,90,0)"},
{"offset":0.7,"color":"#5a5a5a"},{"offset":0.7012,"color":"rgba(90,90,90,0)"},{"offset":0.7238,"color":"rgba(90,90,90,0)"},
{"offset":0.725,"color":"#5a5a5a"},{"offset":0.7262,"color":"rgba(90,90,90,0)"},{"offset":0.7488,"color":"rgba(90,90,90,0)"},
{"offset":0.75,"color":"#5a5a5a"},{"offset":0.7512,"color":"rgba(90,90,90,0)"},{"offset":0.7738,"color":"rgba(90,90,90,0)"},
{"offset":0.775,"color":"#5a5a5a"},{"offset":0.7762,"color":"rgba(90,90,90,0)"},{"offset":0.7988,"color":"rgba(90,90,90,0)"},
{"offset":0.8,"color":"#5a5a5a"},{"offset":0.8012,"color":"rgba(90,90,90,0)"},{"offset":0.8238,"color":"rgba(90,90,90,0)"},
{"offset":0.825,"color":"#5a5a5a"},{"offset":0.8262,"color":"rgba(90,90,90,0)"},{"offset":1,"color":"rgba(90,90,90,0)"}]}},"encoding":{
"x":{"field":"x","type":"quantitative","scale":{"domain":[18.08695,20.24256],"nice":false,"zero":false},"axis":{"zindex":1,"orient":"top","offset":-645,"values":[18.2,18.3,18.4,18.5,18.6,18.7,18.8,18.9,19,19.1],"labels":false,"domain":false,"grid":false,"ticks":true,"tickSize":17,"tickColor":"#000000","tickWidth":1.3,"title":null}},
"y":{"field":"lo","type":"quantitative","scale":{"domain":[607.341,864.759],"nice":false,"zero":false},"axis":{"zindex":1,"orient":"right","offset":-1861,"values":[640,660,680,700,720,740,760,780,800,820,840],"labels":false,"domain":false,"grid":false,"ticks":true,"tickSize":24,"tickColor":"#000000","tickWidth":1.3,"title":null}},
"y2":{"field":"hi"}}},
{"data":{"name":"mean_data_sys"},"mark":{"type":"area","fill":{"gradient":"linear","x1":0,"y1":1,"x2":1.4683,"y2":0.4887,"stops":[
{"offset":0,"color":"#5a5a5a"},{"offset":0.0012,"color":"rgba(90,90,90,0)"},{"offset":0.0238,"color":"rgba(90,90,90,0)"},
{"offset":0.025,"color":"#5a5a5a"},{"offset":0.0262,"color":"rgba(90,90,90,0)"},{"offset":0.0488,"color":"rgba(90,90,90,0)"},
{"offset":0.05,"color":"#5a5a5a"},{"offset":0.0512,"color":"rgba(90,90,90,0)"},{"offset":0.0738,"color":"rgba(90,90,90,0)"},
{"offset":0.075,"color":"#5a5a5a"},{"offset":0.0762,"color":"rgba(90,90,90,0)"},{"offset":0.0988,"color":"rgba(90,90,90,0)"},
{"offset":0.1,"color":"#5a5a5a"},{"offset":0.1012,"color":"rgba(90,90,90,0)"},{"offset":0.1238,"color":"rgba(90,90,90,0)"},
{"offset":0.125,"color":"#5a5a5a"},{"offset":0.1262,"color":"rgba(90,90,90,0)"},{"offset":0.1488,"color":"rgba(90,90,90,0)"},
{"offset":0.15,"color":"#5a5a5a"},{"offset":0.1512,"color":"rgba(90,90,90,0)"},{"offset":0.1738,"color":"rgba(90,90,90,0)"},
{"offset":0.175,"color":"#5a5a5a"},{"offset":0.1762,"color":"rgba(90,90,90,0)"},{"offset":0.1988,"color":"rgba(90,90,90,0)"},
{"offset":0.2,"color":"#5a5a5a"},{"offset":0.2012,"color":"rgba(90,90,90,0)"},{"offset":0.2238,"color":"rgba(90,90,90,0)"},
{"offset":0.225,"color":"#5a5a5a"},{"offset":0.2262,"color":"rgba(90,90,90,0)"},{"offset":0.2488,"color":"rgba(90,90,90,0)"},
{"offset":0.25,"color":"#5a5a5a"},{"offset":0.2512,"color":"rgba(90,90,90,0)"},{"offset":0.2738,"color":"rgba(90,90,90,0)"},
{"offset":0.275,"color":"#5a5a5a"},{"offset":0.2762,"color":"rgba(90,90,90,0)"},{"offset":0.2988,"color":"rgba(90,90,90,0)"},
{"offset":0.3,"color":"#5a5a5a"},{"offset":0.3012,"color":"rgba(90,90,90,0)"},{"offset":0.3238,"color":"rgba(90,90,90,0)"},
{"offset":0.325,"color":"#5a5a5a"},{"offset":0.3262,"color":"rgba(90,90,90,0)"},{"offset":0.3488,"color":"rgba(90,90,90,0)"},
{"offset":0.35,"color":"#5a5a5a"},{"offset":0.3512,"color":"rgba(90,90,90,0)"},{"offset":0.3738,"color":"rgba(90,90,90,0)"},
{"offset":0.375,"color":"#5a5a5a"},{"offset":0.3762,"color":"rgba(90,90,90,0)"},{"offset":0.3988,"color":"rgba(90,90,90,0)"},
{"offset":0.4,"color":"#5a5a5a"},{"offset":0.4012,"color":"rgba(90,90,90,0)"},{"offset":0.4238,"color":"rgba(90,90,90,0)"},
{"offset":0.425,"color":"#5a5a5a"},{"offset":0.4262,"color":"rgba(90,90,90,0)"},{"offset":0.4488,"color":"rgba(90,90,90,0)"},
{"offset":0.45,"color":"#5a5a5a"},{"offset":0.4512,"color":"rgba(90,90,90,0)"},{"offset":0.4738,"color":"rgba(90,90,90,0)"},
{"offset":0.475,"color":"#5a5a5a"},{"offset":0.4762,"color":"rgba(90,90,90,0)"},{"offset":0.4988,"color":"rgba(90,90,90,0)"},
{"offset":0.5,"color":"#5a5a5a"},{"offset":0.5012,"color":"rgba(90,90,90,0)"},{"offset":0.5238,"color":"rgba(90,90,90,0)"},
{"offset":0.525,"color":"#5a5a5a"},{"offset":0.5262,"color":"rgba(90,90,90,0)"},{"offset":0.5488,"color":"rgba(90,90,90,0)"},
{"offset":0.55,"color":"#5a5a5a"},{"offset":0.5512,"color":"rgba(90,90,90,0)"},{"offset":0.5738,"color":"rgba(90,90,90,0)"},
{"offset":0.575,"color":"#5a5a5a"},{"offset":0.5762,"color":"rgba(90,90,90,0)"},{"offset":0.5988,"color":"rgba(90,90,90,0)"},
{"offset":0.6,"color":"#5a5a5a"},{"offset":0.6012,"color":"rgba(90,90,90,0)"},{"offset":0.6238,"color":"rgba(90,90,90,0)"},
{"offset":0.625,"color":"#5a5a5a"},{"offset":0.6262,"color":"rgba(90,90,90,0)"},{"offset":0.6488,"color":"rgba(90,90,90,0)"},
{"offset":0.65,"color":"#5a5a5a"},{"offset":0.6512,"color":"rgba(90,90,90,0)"},{"offset":0.6738,"color":"rgba(90,90,90,0)"},
{"offset":0.675,"color":"#5a5a5a"},{"offset":0.6762,"color":"rgba(90,90,90,0)"},{"offset":0.6988,"color":"rgba(90,90,90,0)"},
{"offset":0.7,"color":"#5a5a5a"},{"offset":0.7012,"color":"rgba(90,90,90,0)"},{"offset":0.7238,"color":"rgba(90,90,90,0)"},
{"offset":0.725,"color":"#5a5a5a"},{"offset":0.7262,"color":"rgba(90,90,90,0)"},{"offset":0.7488,"color":"rgba(90,90,90,0)"},
{"offset":0.75,"color":"#5a5a5a"},{"offset":0.7512,"color":"rgba(90,90,90,0)"},{"offset":0.7738,"color":"rgba(90,90,90,0)"},
{"offset":0.775,"color":"#5a5a5a"},{"offset":0.7762,"color":"rgba(90,90,90,0)"},{"offset":0.7988,"color":"rgba(90,90,90,0)"},
{"offset":0.8,"color":"#5a5a5a"},{"offset":0.8012,"color":"rgba(90,90,90,0)"},{"offset":0.8238,"color":"rgba(90,90,90,0)"},
{"offset":0.825,"color":"#5a5a5a"},{"offset":0.8262,"color":"rgba(90,90,90,0)"},{"offset":1,"color":"rgba(90,90,90,0)"}]}},"encoding":{"x":{"field":"x","type":"quantitative","scale":{"domain":[18.08695,20.24256],"nice":false,"zero":false},"axis":null},"y":{"field":"lo","type":"quantitative","scale":{"domain":[607.341,864.759],"nice":false,"zero":false},"axis":null},"y2":{"field":"hi"}}},
{"data":{"values":[{}]},"mark":{"type":"rect","fillOpacity":0,"stroke":"#8c8c8c","strokeWidth":1.5},"encoding":{"x":{"datum":18.2,"type":"quantitative","scale":{"domain":[18.08695,20.24256],"nice":false,"zero":false},"axis":null},"x2":{"datum":19.1},"y":{"datum":629.91,"type":"quantitative","scale":{"domain":[607.341,864.759],"nice":false,"zero":false},"axis":null},"y2":{"datum":840}}},
{"data":{"values":[{}]},"mark":{"type":"rule","color":"#222222","strokeWidth":1.5},"encoding":{"x":{"datum":18.2,"type":"quantitative","scale":{"domain":[18.08695,20.24256],"nice":false,"zero":false},"axis":null},"y":{"datum":629.91,"type":"quantitative","scale":{"domain":[607.341,864.759],"nice":false,"zero":false},"axis":null},"y2":{"datum":840}}},
{"data":{"values":[{}]},"mark":{"type":"rule","color":"#222222","strokeWidth":1.5},"encoding":{"x":{"datum":18.2,"type":"quantitative","scale":{"domain":[18.08695,20.24256],"nice":false,"zero":false},"axis":null},"x2":{"datum":19.1},"y":{"datum":629.91,"type":"quantitative","scale":{"domain":[607.341,864.759],"nice":false,"zero":false},"axis":null}}},
{"data":{"name":"mean_points"},"mark":{"type":"rule","strokeWidth":1.5},"encoding":{
"x":{"field":"x","type":"quantitative","scale":{"domain":[18.08695,20.24256],"nice":false,"zero":false},"axis":{"zindex":1,"orient":"top","offset":-645,"values":[18.22,18.24,18.26,18.28,18.32,18.34,18.36,18.38,18.42,18.44,18.46,18.48,18.52,18.54,18.56,18.58,18.62,18.64,18.66,18.68,18.72,18.74,18.76,18.78,18.82,18.84,18.86,18.88,18.92,18.94,18.96,18.98,19.02,19.04,19.06,19.08],"labels":false,"domain":false,"grid":false,"ticks":true,"tickSize":8,"tickColor":"#000000","tickWidth":1.2,"title":null}},
"y":{"field":"lo","type":"quantitative","scale":{"domain":[607.341,864.759],"nice":false,"zero":false},"axis":{"zindex":1,"orient":"right","offset":-1861,"values":[635,645,650,655,665,670,675,685,690,695,705,710,715,725,730,735,745,750,755,765,770,775,785,790,795,805,810,815,825,830,835],"labels":false,"domain":false,"grid":false,"ticks":true,"tickSize":12,"tickColor":"#000000","tickWidth":1.2,"title":null}},
"y2":{"field":"hi"},
"stroke":{"field":"series","type":"nominal","scale":{"domain":["data","QGSJET II-04 proton","QGSJET II-04 helium","QGSJET II-04 nitrogen","QGSJET II-04 iron"],"range":["#111111","#e82020","#e020e0","#f07020","#2020e0"]},"legend":null}}},
{"data":{"name":"mean_points"},"mark":{"type":"point","filled":true,"size":160,"opacity":1},"encoding":{
"x":{"field":"x","type":"quantitative","scale":{"domain":[18.08695,20.24256],"nice":false,"zero":false},"axis":{"zindex":1,"orient":"bottom","offset":-62,"values":[18.2,18.3,18.4,18.5,18.6,18.7,18.8,18.9,19,19.1],"format":"~g","ticks":false,"labelFont":"Liberation Sans","labelFontSize":26,"labelFontWeight":"bold","labelColor":"#000000","labelPadding":5,"labelFlush":false,"labelOverlap":false,"labelBound":false,"domain":false,"grid":false,"title":"log₁₀(E/eV)","titleFont":"Liberation Sans, DejaVu Sans","titleFontSize":26,"titleFontWeight":"bold","titleColor":"#000000","titleAlign":"right","titleBaseline":"alphabetic","titleAngle":0,"titleX":923,"titleY":52}},
"y":{"field":"y","type":"quantitative","scale":{"domain":[607.341,864.759],"nice":false,"zero":false},"axis":{"zindex":1,"orient":"left","offset":-103,"values":[640,660,680,700,720,740,760,780,800,820,840],"format":"d","ticks":false,"labelFont":"Liberation Sans","labelFontSize":26,"labelFontWeight":"bold","labelColor":"#000000","labelPadding":6,"labelFlush":false,"labelOverlap":false,"labelBound":false,"domain":false,"grid":false,"title":null}},
"color":{"field":"series","type":"nominal","scale":{"domain":["data","QGSJET II-04 proton","QGSJET II-04 helium","QGSJET II-04 nitrogen","QGSJET II-04 iron"],"range":["#000000","#ee1111","#ee11ee","#f26b14","#1212ee"]},"legend":null},
"shape":{"field":"series","type":"nominal","scale":{"domain":["data","QGSJET II-04 proton","QGSJET II-04 helium","QGSJET II-04 nitrogen","QGSJET II-04 iron"],"range":["M0,-1L0.2245,-0.309L0.9511,-0.309L0.3633,0.118L0.5878,0.809L0,0.382L-0.5878,0.809L-0.3633,0.118L-0.9511,-0.309L-0.2245,-0.309Z","circle","circle","circle","circle"]},"legend":null}}},
{"data":{"values":[{}]},"mark":{"type":"text","text":"<Xₘₐₓ> (g/cm²)","angle":270,"font":"Liberation Sans, DejaVu Sans","fontSize":26,"fontWeight":"bold","color":"#000000","align":"center","baseline":"middle"},"encoding":{"x":{"datum":18.11713,"type":"quantitative","scale":{"domain":[18.08695,20.24256],"nice":false,"zero":false},"axis":null},"y":{"datum":807.596,"type":"quantitative","scale":{"domain":[607.341,864.759],"nice":false,"zero":false},"axis":null}}},
{"data":{"values":[{}]},"mark":{"type":"point","filled":true,"opacity":1,"size":169,"color":"#000000","shape":"M0,-1L0.2245,-0.309L0.9511,-0.309L0.3633,0.118L0.5878,0.809L0,0.382L-0.5878,0.809L-0.3633,0.118L-0.9511,-0.309L-0.2245,-0.309Z"},"encoding":{"x":{"datum":18.25894,"type":"quantitative","scale":{"domain":[18.08695,20.24256],"nice":false,"zero":false},"axis":null},"y":{"datum":831.99,"type":"quantitative","scale":{"domain":[607.341,864.759],"nice":false,"zero":false},"axis":null}}},
{"data":{"values":[{}]},"mark":{"type":"point","filled":true,"opacity":1,"size":169,"color":"#ee1111","shape":"circle"},"encoding":{"x":{"datum":18.25894,"type":"quantitative","scale":{"domain":[18.08695,20.24256],"nice":false,"zero":false},"axis":null},"y":{"datum":820.084,"type":"quantitative","scale":{"domain":[607.341,864.759],"nice":false,"zero":false},"axis":null}}},
{"data":{"values":[{}]},"mark":{"type":"point","filled":true,"opacity":1,"size":169,"color":"#ee11ee","shape":"circle"},"encoding":{"x":{"datum":18.25894,"type":"quantitative","scale":{"domain":[18.08695,20.24256],"nice":false,"zero":false},"axis":null},"y":{"datum":808.178,"type":"quantitative","scale":{"domain":[607.341,864.759],"nice":false,"zero":false},"axis":null}}},
{"data":{"values":[{}]},"mark":{"type":"point","filled":true,"opacity":1,"size":169,"color":"#f26b14","shape":"circle"},"encoding":{"x":{"datum":18.25894,"type":"quantitative","scale":{"domain":[18.08695,20.24256],"nice":false,"zero":false},"axis":null},"y":{"datum":796.272,"type":"quantitative","scale":{"domain":[607.341,864.759],"nice":false,"zero":false},"axis":null}}},
{"data":{"values":[{}]},"mark":{"type":"point","filled":true,"opacity":1,"size":169,"color":"#1212ee","shape":"circle"},"encoding":{"x":{"datum":18.25894,"type":"quantitative","scale":{"domain":[18.08695,20.24256],"nice":false,"zero":false},"axis":null},"y":{"datum":784.366,"type":"quantitative","scale":{"domain":[607.341,864.759],"nice":false,"zero":false},"axis":null}}},
{"data":{"values":[{}]},"mark":{"type":"text","text":["data","QGSJET II-04 proton","QGSJET II-04 helium","QGSJET II-04 nitrogen","QGSJET II-04 iron"],"lineHeight":32.7,"font":"Liberation Sans","fontSize":20,"fontWeight":"bold","color":"#000000","align":"left","baseline":"alphabetic"},"encoding":{"x":{"datum":18.30284,"type":"quantitative","scale":{"domain":[18.08695,20.24256],"nice":false,"zero":false},"axis":null},"y":{"datum":829.387,"type":"quantitative","scale":{"domain":[607.341,864.759],"nice":false,"zero":false},"axis":null}}},
{"data":{"values":[{}]},"mark":{"type":"text","text":"data sys.","font":"Liberation Sans","fontSize":20,"fontWeight":"bold","color":"#000000","align":"left","baseline":"alphabetic"},"encoding":{"x":{"datum":18.62947,"type":"quantitative","scale":{"domain":[18.08695,20.24256],"nice":false,"zero":false},"axis":null},"y":{"datum":828.604,"type":"quantitative","scale":{"domain":[607.341,864.759],"nice":false,"zero":false},"axis":null}}},
{"data":{"values":[{}]},"mark":{"type":"text","text":"proton sys.","font":"Liberation Sans","fontSize":20,"fontWeight":"bold","color":"#000000","align":"left","baseline":"alphabetic"},"encoding":{"x":{"datum":18.62947,"type":"quantitative","scale":{"domain":[18.08695,20.24256],"nice":false,"zero":false},"axis":null},"y":{"datum":818.882,"type":"quantitative","scale":{"domain":[607.341,864.759],"nice":false,"zero":false},"axis":null}}},
{"data":{"values":[{}]},"mark":{"type":"text","text":"helium sys.","font":"Liberation Sans","fontSize":20,"fontWeight":"bold","color":"#000000","align":"left","baseline":"alphabetic"},"encoding":{"x":{"datum":18.62947,"type":"quantitative","scale":{"domain":[18.08695,20.24256],"nice":false,"zero":false},"axis":null},"y":{"datum":808.942,"type":"quantitative","scale":{"domain":[607.341,864.759],"nice":false,"zero":false},"axis":null}}},
{"data":{"values":[{}]},"mark":{"type":"text","text":"Mean Xmax","font":"Lato","fontSize":42,"color":"#ffffff","align":"center","baseline":"alphabetic"},"encoding":{"x":{"datum":18.59183,"type":"quantitative","scale":{"domain":[18.08695,20.24256],"nice":false,"zero":false},"axis":null},"y":{"datum":850.2,"type":"quantitative","scale":{"domain":[607.341,864.759],"nice":false,"zero":false},"axis":null}}},
{"data":{"values":[{}]},"mark":{"type":"rect","fill":{"gradient":"linear","x1":0,"y1":0,"x2":1,"y2":1,"stops":[{"offset":0,"color":"rgba(70,70,70,0)"},{"offset":0.47,"color":"rgba(70,70,70,0)"},{"offset":0.5,"color":"rgb(70,70,70)"},{"offset":0.53,"color":"rgba(70,70,70,0)"},{"offset":1,"color":"rgba(70,70,70,0)"}]}},"encoding":{"x":{"datum":18.58634,"type":"quantitative","scale":{"domain":[18.08695,20.24256],"nice":false,"zero":false},"axis":null},"x2":{"datum":18.62223},"y":{"datum":827.147,"type":"quantitative","scale":{"domain":[607.341,864.759],"nice":false,"zero":false},"axis":null},"y2":{"datum":834.429}}},
{"data":{"values":[{}]},"mark":{"type":"rect","stroke":"#555555","strokeWidth":1,"fill":{"gradient":"linear","x1":0,"y1":1,"x2":1,"y2":0,"stops":[{"offset":0,"color":"rgba(70,70,70,0)"},{"offset":0.47,"color":"rgba(70,70,70,0)"},{"offset":0.5,"color":"rgb(70,70,70)"},{"offset":0.53,"color":"rgba(70,70,70,0)"},{"offset":1,"color":"rgba(70,70,70,0)"}]}},"encoding":{"x":{"datum":18.58634,"type":"quantitative","scale":{"domain":[18.08695,20.24256],"nice":false,"zero":false},"axis":null},"x2":{"datum":18.62223},"y":{"datum":827.147,"type":"quantitative","scale":{"domain":[607.341,864.759],"nice":false,"zero":false},"axis":null},"y2":{"datum":834.429}}},
{"data":{"values":[{}]},"mark":{"type":"rect","stroke":"#d04848","strokeWidth":1,"fill":{"gradient":"linear","x1":0,"y1":1,"x2":1.173,"y2":0.2825,"stops":[{"offset":0,"color":"rgba(200,50,50,0)"},{"offset":0.084,"color":"rgba(200,50,50,0)"},{"offset":0.114,"color":"rgb(200,50,50)"},{"offset":0.144,"color":"rgba(200,50,50,0)"},{"offset":0.312,"color":"rgba(200,50,50,0)"},{"offset":0.342,"color":"rgb(200,50,50)"},{"offset":0.372,"color":"rgba(200,50,50,0)"},{"offset":0.54,"color":"rgba(200,50,50,0)"},{"offset":0.57,"color":"rgb(200,50,50)"},{"offset":0.6,"color":"rgba(200,50,50,0)"},{"offset":0.768,"color":"rgba(200,50,50,0)"},{"offset":0.798,"color":"rgb(200,50,50)"},{"offset":0.828,"color":"rgba(200,50,50,0)"},{"offset":1,"color":"rgba(200,50,50,0)"}]}},"encoding":{"x":{"datum":18.58634,"type":"quantitative","scale":{"domain":[18.08695,20.24256],"nice":false,"zero":false},"axis":null},"x2":{"datum":18.62223},"y":{"datum":817.426,"type":"quantitative","scale":{"domain":[607.341,864.759],"nice":false,"zero":false},"axis":null},"y2":{"datum":824.708}}},
{"data":{"values":[{}]},"mark":{"type":"rect","stroke":"#d050d0","strokeWidth":1,"fill":{"gradient":"linear","x1":0,"y1":0,"x2":1.173,"y2":0.7175,"stops":[{"offset":0,"color":"rgba(210,60,210,0)"},{"offset":0.05,"color":"rgba(210,60,210,0)"},{"offset":0.08,"color":"rgb(210,60,210)"},{"offset":0.11,"color":"rgba(210,60,210,0)"},{"offset":0.19,"color":"rgba(210,60,210,0)"},{"offset":0.22,"color":"rgb(210,60,210)"},{"offset":0.25,"color":"rgba(210,60,210,0)"},{"offset":0.33,"color":"rgba(210,60,210,0)"},{"offset":0.36,"color":"rgb(210,60,210)"},{"offset":0.39,"color":"rgba(210,60,210,0)"},{"offset":0.47,"color":"rgba(210,60,210,0)"},{"offset":0.5,"color":"rgb(210,60,210)"},{"offset":0.53,"color":"rgba(210,60,210,0)"},{"offset":0.61,"color":"rgba(210,60,210,0)"},{"offset":0.64,"color":"rgb(210,60,210)"},{"offset":0.67,"color":"rgba(210,60,210,0)"},{"offset":0.75,"color":"rgba(210,60,210,0)"},{"offset":0.78,"color":"rgb(210,60,210)"},{"offset":0.81,"color":"rgba(210,60,210,0)"},{"offset":0.89,"color":"rgba(210,60,210,0)"},{"offset":0.92,"color":"rgb(210,60,210)"},{"offset":0.95,"color":"rgba(210,60,210,0)"},{"offset":1,"color":"rgba(210,60,210,0)"}]}},"encoding":{"x":{"datum":18.58634,"type":"quantitative","scale":{"domain":[18.08695,20.24256],"nice":false,"zero":false},"axis":null},"x2":{"datum":18.62223},"y":{"datum":807.486,"type":"quantitative","scale":{"domain":[607.341,864.759],"nice":false,"zero":false},"axis":null},"y2":{"datum":814.768}}}
]
},
{
"resolve":{"axis":{"x":"independent","y":"independent"}},
"layer":[
{"data":{"values":[{}]},"mark":{"type":"rect","fill":"#ffffff"},"encoding":{"x":{"datum":18.10023,"type":"quantitative","scale":{"domain":[17.1128,19.13292],"nice":false,"zero":false},"axis":null},"x2":{"datum":19.2},"y":{"datum":99.476,"type":"quantitative","scale":{"domain":[8.86,106.97],"nice":false,"zero":false},"axis":null},"y2":{"datum":5}}},
{"data":{"name":"sigma_data_sys"},"mark":{"type":"area","fill":{"gradient":"linear","x1":0,"y1":0,"x2":1.182,"y2":0.2486,"stops":[
{"offset":0,"color":"#505050"},{"offset":0.0015,"color":"rgba(80,80,80,0)"},{"offset":0.011,"color":"rgba(80,80,80,0)"},
{"offset":0.0125,"color":"#505050"},{"offset":0.014,"color":"rgba(80,80,80,0)"},{"offset":0.0235,"color":"rgba(80,80,80,0)"},
{"offset":0.025,"color":"#505050"},{"offset":0.0265,"color":"rgba(80,80,80,0)"},{"offset":0.036,"color":"rgba(80,80,80,0)"},
{"offset":0.0375,"color":"#505050"},{"offset":0.039,"color":"rgba(80,80,80,0)"},{"offset":0.0485,"color":"rgba(80,80,80,0)"},
{"offset":0.05,"color":"#505050"},{"offset":0.0515,"color":"rgba(80,80,80,0)"},{"offset":0.061,"color":"rgba(80,80,80,0)"},
{"offset":0.0625,"color":"#505050"},{"offset":0.064,"color":"rgba(80,80,80,0)"},{"offset":0.0735,"color":"rgba(80,80,80,0)"},
{"offset":0.075,"color":"#505050"},{"offset":0.0765,"color":"rgba(80,80,80,0)"},{"offset":0.086,"color":"rgba(80,80,80,0)"},
{"offset":0.0875,"color":"#505050"},{"offset":0.089,"color":"rgba(80,80,80,0)"},{"offset":0.0985,"color":"rgba(80,80,80,0)"},
{"offset":0.1,"color":"#505050"},{"offset":0.1015,"color":"rgba(80,80,80,0)"},{"offset":0.111,"color":"rgba(80,80,80,0)"},
{"offset":0.1125,"color":"#505050"},{"offset":0.114,"color":"rgba(80,80,80,0)"},{"offset":0.1235,"color":"rgba(80,80,80,0)"},
{"offset":0.125,"color":"#505050"},{"offset":0.1265,"color":"rgba(80,80,80,0)"},{"offset":0.136,"color":"rgba(80,80,80,0)"},
{"offset":0.1375,"color":"#505050"},{"offset":0.139,"color":"rgba(80,80,80,0)"},{"offset":0.1485,"color":"rgba(80,80,80,0)"},
{"offset":0.15,"color":"#505050"},{"offset":0.1515,"color":"rgba(80,80,80,0)"},{"offset":0.161,"color":"rgba(80,80,80,0)"},
{"offset":0.1625,"color":"#505050"},{"offset":0.164,"color":"rgba(80,80,80,0)"},{"offset":0.1735,"color":"rgba(80,80,80,0)"},
{"offset":0.175,"color":"#505050"},{"offset":0.1765,"color":"rgba(80,80,80,0)"},{"offset":0.186,"color":"rgba(80,80,80,0)"},
{"offset":0.1875,"color":"#505050"},{"offset":0.189,"color":"rgba(80,80,80,0)"},{"offset":0.1985,"color":"rgba(80,80,80,0)"},
{"offset":0.2,"color":"#505050"},{"offset":0.2015,"color":"rgba(80,80,80,0)"},{"offset":0.211,"color":"rgba(80,80,80,0)"},
{"offset":0.2125,"color":"#505050"},{"offset":0.214,"color":"rgba(80,80,80,0)"},{"offset":0.2235,"color":"rgba(80,80,80,0)"},
{"offset":0.225,"color":"#505050"},{"offset":0.2265,"color":"rgba(80,80,80,0)"},{"offset":0.236,"color":"rgba(80,80,80,0)"},
{"offset":0.2375,"color":"#505050"},{"offset":0.239,"color":"rgba(80,80,80,0)"},{"offset":0.2485,"color":"rgba(80,80,80,0)"},
{"offset":0.25,"color":"#505050"},{"offset":0.2515,"color":"rgba(80,80,80,0)"},{"offset":0.261,"color":"rgba(80,80,80,0)"},
{"offset":0.2625,"color":"#505050"},{"offset":0.264,"color":"rgba(80,80,80,0)"},{"offset":0.2735,"color":"rgba(80,80,80,0)"},
{"offset":0.275,"color":"#505050"},{"offset":0.2765,"color":"rgba(80,80,80,0)"},{"offset":0.286,"color":"rgba(80,80,80,0)"},
{"offset":0.2875,"color":"#505050"},{"offset":0.289,"color":"rgba(80,80,80,0)"},{"offset":0.2985,"color":"rgba(80,80,80,0)"},
{"offset":0.3,"color":"#505050"},{"offset":0.3015,"color":"rgba(80,80,80,0)"},{"offset":0.311,"color":"rgba(80,80,80,0)"},
{"offset":0.3125,"color":"#505050"},{"offset":0.314,"color":"rgba(80,80,80,0)"},{"offset":0.3235,"color":"rgba(80,80,80,0)"},
{"offset":0.325,"color":"#505050"},{"offset":0.3265,"color":"rgba(80,80,80,0)"},{"offset":0.336,"color":"rgba(80,80,80,0)"},
{"offset":0.3375,"color":"#505050"},{"offset":0.339,"color":"rgba(80,80,80,0)"},{"offset":0.3485,"color":"rgba(80,80,80,0)"},
{"offset":0.35,"color":"#505050"},{"offset":0.3515,"color":"rgba(80,80,80,0)"},{"offset":0.361,"color":"rgba(80,80,80,0)"},
{"offset":0.3625,"color":"#505050"},{"offset":0.364,"color":"rgba(80,80,80,0)"},{"offset":0.3735,"color":"rgba(80,80,80,0)"},
{"offset":0.375,"color":"#505050"},{"offset":0.3765,"color":"rgba(80,80,80,0)"},{"offset":0.386,"color":"rgba(80,80,80,0)"},
{"offset":0.3875,"color":"#505050"},{"offset":0.389,"color":"rgba(80,80,80,0)"},{"offset":0.3985,"color":"rgba(80,80,80,0)"},
{"offset":0.4,"color":"#505050"},{"offset":0.4015,"color":"rgba(80,80,80,0)"},{"offset":0.411,"color":"rgba(80,80,80,0)"},
{"offset":0.4125,"color":"#505050"},{"offset":0.414,"color":"rgba(80,80,80,0)"},{"offset":0.4235,"color":"rgba(80,80,80,0)"},
{"offset":0.425,"color":"#505050"},{"offset":0.4265,"color":"rgba(80,80,80,0)"},{"offset":0.436,"color":"rgba(80,80,80,0)"},
{"offset":0.4375,"color":"#505050"},{"offset":0.439,"color":"rgba(80,80,80,0)"},{"offset":0.4485,"color":"rgba(80,80,80,0)"},
{"offset":0.45,"color":"#505050"},{"offset":0.4515,"color":"rgba(80,80,80,0)"},{"offset":0.461,"color":"rgba(80,80,80,0)"},
{"offset":0.4625,"color":"#505050"},{"offset":0.464,"color":"rgba(80,80,80,0)"},{"offset":0.4735,"color":"rgba(80,80,80,0)"},
{"offset":0.475,"color":"#505050"},{"offset":0.4765,"color":"rgba(80,80,80,0)"},{"offset":0.486,"color":"rgba(80,80,80,0)"},
{"offset":0.4875,"color":"#505050"},{"offset":0.489,"color":"rgba(80,80,80,0)"},{"offset":0.4985,"color":"rgba(80,80,80,0)"},
{"offset":0.5,"color":"#505050"},{"offset":0.5015,"color":"rgba(80,80,80,0)"},{"offset":0.511,"color":"rgba(80,80,80,0)"},
{"offset":0.5125,"color":"#505050"},{"offset":0.514,"color":"rgba(80,80,80,0)"},{"offset":0.5235,"color":"rgba(80,80,80,0)"},
{"offset":0.525,"color":"#505050"},{"offset":0.5265,"color":"rgba(80,80,80,0)"},{"offset":0.536,"color":"rgba(80,80,80,0)"},
{"offset":0.5375,"color":"#505050"},{"offset":0.539,"color":"rgba(80,80,80,0)"},{"offset":0.5485,"color":"rgba(80,80,80,0)"},
{"offset":0.55,"color":"#505050"},{"offset":0.5515,"color":"rgba(80,80,80,0)"},{"offset":0.561,"color":"rgba(80,80,80,0)"},
{"offset":0.5625,"color":"#505050"},{"offset":0.564,"color":"rgba(80,80,80,0)"},{"offset":0.5735,"color":"rgba(80,80,80,0)"},
{"offset":0.575,"color":"#505050"},{"offset":0.5765,"color":"rgba(80,80,80,0)"},{"offset":0.586,"color":"rgba(80,80,80,0)"},
{"offset":0.5875,"color":"#505050"},{"offset":0.589,"color":"rgba(80,80,80,0)"},{"offset":0.5985,"color":"rgba(80,80,80,0)"},
{"offset":0.6,"color":"#505050"},{"offset":0.6015,"color":"rgba(80,80,80,0)"},{"offset":0.611,"color":"rgba(80,80,80,0)"},
{"offset":0.6125,"color":"#505050"},{"offset":0.614,"color":"rgba(80,80,80,0)"},{"offset":0.6235,"color":"rgba(80,80,80,0)"},
{"offset":0.625,"color":"#505050"},{"offset":0.6265,"color":"rgba(80,80,80,0)"},{"offset":0.636,"color":"rgba(80,80,80,0)"},
{"offset":0.6375,"color":"#505050"},{"offset":0.639,"color":"rgba(80,80,80,0)"},{"offset":0.6485,"color":"rgba(80,80,80,0)"},
{"offset":0.65,"color":"#505050"},{"offset":0.6515,"color":"rgba(80,80,80,0)"},{"offset":0.661,"color":"rgba(80,80,80,0)"},
{"offset":0.6625,"color":"#505050"},{"offset":0.664,"color":"rgba(80,80,80,0)"},{"offset":0.6735,"color":"rgba(80,80,80,0)"},
{"offset":0.675,"color":"#505050"},{"offset":0.6765,"color":"rgba(80,80,80,0)"},{"offset":0.686,"color":"rgba(80,80,80,0)"},
{"offset":0.6875,"color":"#505050"},{"offset":0.689,"color":"rgba(80,80,80,0)"},{"offset":0.6985,"color":"rgba(80,80,80,0)"},
{"offset":0.7,"color":"#505050"},{"offset":0.7015,"color":"rgba(80,80,80,0)"},{"offset":0.711,"color":"rgba(80,80,80,0)"},
{"offset":0.7125,"color":"#505050"},{"offset":0.714,"color":"rgba(80,80,80,0)"},{"offset":0.7235,"color":"rgba(80,80,80,0)"},
{"offset":0.725,"color":"#505050"},{"offset":0.7265,"color":"rgba(80,80,80,0)"},{"offset":0.736,"color":"rgba(80,80,80,0)"},
{"offset":0.7375,"color":"#505050"},{"offset":0.739,"color":"rgba(80,80,80,0)"},{"offset":0.7485,"color":"rgba(80,80,80,0)"},
{"offset":0.75,"color":"#505050"},{"offset":0.7515,"color":"rgba(80,80,80,0)"},{"offset":0.761,"color":"rgba(80,80,80,0)"},
{"offset":0.7625,"color":"#505050"},{"offset":0.764,"color":"rgba(80,80,80,0)"},{"offset":0.7735,"color":"rgba(80,80,80,0)"},
{"offset":0.775,"color":"#505050"},{"offset":0.7765,"color":"rgba(80,80,80,0)"},{"offset":0.786,"color":"rgba(80,80,80,0)"},
{"offset":0.7875,"color":"#505050"},{"offset":0.789,"color":"rgba(80,80,80,0)"},{"offset":0.7985,"color":"rgba(80,80,80,0)"},
{"offset":0.8,"color":"#505050"},{"offset":0.8015,"color":"rgba(80,80,80,0)"},{"offset":0.811,"color":"rgba(80,80,80,0)"},
{"offset":0.8125,"color":"#505050"},{"offset":0.814,"color":"rgba(80,80,80,0)"},{"offset":0.8235,"color":"rgba(80,80,80,0)"},
{"offset":0.825,"color":"#505050"},{"offset":0.8265,"color":"rgba(80,80,80,0)"},{"offset":0.836,"color":"rgba(80,80,80,0)"},
{"offset":0.8375,"color":"#505050"},{"offset":0.839,"color":"rgba(80,80,80,0)"},{"offset":0.8485,"color":"rgba(80,80,80,0)"},
{"offset":0.85,"color":"#505050"},{"offset":0.8515,"color":"rgba(80,80,80,0)"},{"offset":0.861,"color":"rgba(80,80,80,0)"},
{"offset":0.8625,"color":"#505050"},{"offset":0.864,"color":"rgba(80,80,80,0)"},{"offset":0.8735,"color":"rgba(80,80,80,0)"},
{"offset":0.875,"color":"#505050"},{"offset":0.8765,"color":"rgba(80,80,80,0)"},{"offset":0.886,"color":"rgba(80,80,80,0)"},
{"offset":0.8875,"color":"#505050"},{"offset":0.889,"color":"rgba(80,80,80,0)"},{"offset":0.8985,"color":"rgba(80,80,80,0)"},
{"offset":0.9,"color":"#505050"},{"offset":0.9015,"color":"rgba(80,80,80,0)"},{"offset":0.911,"color":"rgba(80,80,80,0)"},
{"offset":0.9125,"color":"#505050"},{"offset":0.914,"color":"rgba(80,80,80,0)"},{"offset":0.9235,"color":"rgba(80,80,80,0)"},
{"offset":0.925,"color":"#505050"},{"offset":0.9265,"color":"rgba(80,80,80,0)"},{"offset":0.936,"color":"rgba(80,80,80,0)"},
{"offset":0.9375,"color":"#505050"},{"offset":0.939,"color":"rgba(80,80,80,0)"},{"offset":0.9485,"color":"rgba(80,80,80,0)"},
{"offset":0.95,"color":"#505050"},{"offset":0.9515,"color":"rgba(80,80,80,0)"},{"offset":0.961,"color":"rgba(80,80,80,0)"},
{"offset":0.9625,"color":"#505050"},{"offset":0.964,"color":"rgba(80,80,80,0)"},{"offset":0.9735,"color":"rgba(80,80,80,0)"},
{"offset":0.975,"color":"#505050"},{"offset":0.9765,"color":"rgba(80,80,80,0)"},{"offset":1,"color":"rgba(80,80,80,0)"}]}},"encoding":{
"x":{"field":"x","type":"quantitative","scale":{"domain":[17.1128,19.13292],"nice":false,"zero":false},"axis":{"zindex":1,"orient":"top","offset":-640,"values":[18.2,18.3,18.4,18.5,18.6,18.7,18.8,18.9,19,19.1],"labels":false,"domain":false,"grid":false,"ticks":true,"tickSize":17,"tickColor":"#000000","tickWidth":1.3,"title":null}},
"y":{"field":"lo","type":"quantitative","scale":{"domain":[8.86,106.97],"nice":false,"zero":false},"axis":{"zindex":1,"orient":"right","offset":-907,"values":[20,30,40,50,60,70,80,90],"labels":false,"domain":false,"grid":false,"ticks":true,"tickSize":27,"tickColor":"#000000","tickWidth":1.3,"title":null}},
"y2":{"field":"hi"}}},
{"data":{"name":"sigma_data_sys"},"mark":{"type":"area","fill":{"gradient":"linear","x1":0,"y1":1,"x2":1.182,"y2":0.7514,"stops":[
{"offset":0,"color":"#505050"},{"offset":0.0015,"color":"rgba(80,80,80,0)"},{"offset":0.011,"color":"rgba(80,80,80,0)"},
{"offset":0.0125,"color":"#505050"},{"offset":0.014,"color":"rgba(80,80,80,0)"},{"offset":0.0235,"color":"rgba(80,80,80,0)"},
{"offset":0.025,"color":"#505050"},{"offset":0.0265,"color":"rgba(80,80,80,0)"},{"offset":0.036,"color":"rgba(80,80,80,0)"},
{"offset":0.0375,"color":"#505050"},{"offset":0.039,"color":"rgba(80,80,80,0)"},{"offset":0.0485,"color":"rgba(80,80,80,0)"},
{"offset":0.05,"color":"#505050"},{"offset":0.0515,"color":"rgba(80,80,80,0)"},{"offset":0.061,"color":"rgba(80,80,80,0)"},
{"offset":0.0625,"color":"#505050"},{"offset":0.064,"color":"rgba(80,80,80,0)"},{"offset":0.0735,"color":"rgba(80,80,80,0)"},
{"offset":0.075,"color":"#505050"},{"offset":0.0765,"color":"rgba(80,80,80,0)"},{"offset":0.086,"color":"rgba(80,80,80,0)"},
{"offset":0.0875,"color":"#505050"},{"offset":0.089,"color":"rgba(80,80,80,0)"},{"offset":0.0985,"color":"rgba(80,80,80,0)"},
{"offset":0.1,"color":"#505050"},{"offset":0.1015,"color":"rgba(80,80,80,0)"},{"offset":0.111,"color":"rgba(80,80,80,0)"},
{"offset":0.1125,"color":"#505050"},{"offset":0.114,"color":"rgba(80,80,80,0)"},{"offset":0.1235,"color":"rgba(80,80,80,0)"},
{"offset":0.125,"color":"#505050"},{"offset":0.1265,"color":"rgba(80,80,80,0)"},{"offset":0.136,"color":"rgba(80,80,80,0)"},
{"offset":0.1375,"color":"#505050"},{"offset":0.139,"color":"rgba(80,80,80,0)"},{"offset":0.1485,"color":"rgba(80,80,80,0)"},
{"offset":0.15,"color":"#505050"},{"offset":0.1515,"color":"rgba(80,80,80,0)"},{"offset":0.161,"color":"rgba(80,80,80,0)"},
{"offset":0.1625,"color":"#505050"},{"offset":0.164,"color":"rgba(80,80,80,0)"},{"offset":0.1735,"color":"rgba(80,80,80,0)"},
{"offset":0.175,"color":"#505050"},{"offset":0.1765,"color":"rgba(80,80,80,0)"},{"offset":0.186,"color":"rgba(80,80,80,0)"},
{"offset":0.1875,"color":"#505050"},{"offset":0.189,"color":"rgba(80,80,80,0)"},{"offset":0.1985,"color":"rgba(80,80,80,0)"},
{"offset":0.2,"color":"#505050"},{"offset":0.2015,"color":"rgba(80,80,80,0)"},{"offset":0.211,"color":"rgba(80,80,80,0)"},
{"offset":0.2125,"color":"#505050"},{"offset":0.214,"color":"rgba(80,80,80,0)"},{"offset":0.2235,"color":"rgba(80,80,80,0)"},
{"offset":0.225,"color":"#505050"},{"offset":0.2265,"color":"rgba(80,80,80,0)"},{"offset":0.236,"color":"rgba(80,80,80,0)"},
{"offset":0.2375,"color":"#505050"},{"offset":0.239,"color":"rgba(80,80,80,0)"},{"offset":0.2485,"color":"rgba(80,80,80,0)"},
{"offset":0.25,"color":"#505050"},{"offset":0.2515,"color":"rgba(80,80,80,0)"},{"offset":0.261,"color":"rgba(80,80,80,0)"},
{"offset":0.2625,"color":"#505050"},{"offset":0.264,"color":"rgba(80,80,80,0)"},{"offset":0.2735,"color":"rgba(80,80,80,0)"},
{"offset":0.275,"color":"#505050"},{"offset":0.2765,"color":"rgba(80,80,80,0)"},{"offset":0.286,"color":"rgba(80,80,80,0)"},
{"offset":0.2875,"color":"#505050"},{"offset":0.289,"color":"rgba(80,80,80,0)"},{"offset":0.2985,"color":"rgba(80,80,80,0)"},
{"offset":0.3,"color":"#505050"},{"offset":0.3015,"color":"rgba(80,80,80,0)"},{"offset":0.311,"color":"rgba(80,80,80,0)"},
{"offset":0.3125,"color":"#505050"},{"offset":0.314,"color":"rgba(80,80,80,0)"},{"offset":0.3235,"color":"rgba(80,80,80,0)"},
{"offset":0.325,"color":"#505050"},{"offset":0.3265,"color":"rgba(80,80,80,0)"},{"offset":0.336,"color":"rgba(80,80,80,0)"},
{"offset":0.3375,"color":"#505050"},{"offset":0.339,"color":"rgba(80,80,80,0)"},{"offset":0.3485,"color":"rgba(80,80,80,0)"},
{"offset":0.35,"color":"#505050"},{"offset":0.3515,"color":"rgba(80,80,80,0)"},{"offset":0.361,"color":"rgba(80,80,80,0)"},
{"offset":0.3625,"color":"#505050"},{"offset":0.364,"color":"rgba(80,80,80,0)"},{"offset":0.3735,"color":"rgba(80,80,80,0)"},
{"offset":0.375,"color":"#505050"},{"offset":0.3765,"color":"rgba(80,80,80,0)"},{"offset":0.386,"color":"rgba(80,80,80,0)"},
{"offset":0.3875,"color":"#505050"},{"offset":0.389,"color":"rgba(80,80,80,0)"},{"offset":0.3985,"color":"rgba(80,80,80,0)"},
{"offset":0.4,"color":"#505050"},{"offset":0.4015,"color":"rgba(80,80,80,0)"},{"offset":0.411,"color":"rgba(80,80,80,0)"},
{"offset":0.4125,"color":"#505050"},{"offset":0.414,"color":"rgba(80,80,80,0)"},{"offset":0.4235,"color":"rgba(80,80,80,0)"},
{"offset":0.425,"color":"#505050"},{"offset":0.4265,"color":"rgba(80,80,80,0)"},{"offset":0.436,"color":"rgba(80,80,80,0)"},
{"offset":0.4375,"color":"#505050"},{"offset":0.439,"color":"rgba(80,80,80,0)"},{"offset":0.4485,"color":"rgba(80,80,80,0)"},
{"offset":0.45,"color":"#505050"},{"offset":0.4515,"color":"rgba(80,80,80,0)"},{"offset":0.461,"color":"rgba(80,80,80,0)"},
{"offset":0.4625,"color":"#505050"},{"offset":0.464,"color":"rgba(80,80,80,0)"},{"offset":0.4735,"color":"rgba(80,80,80,0)"},
{"offset":0.475,"color":"#505050"},{"offset":0.4765,"color":"rgba(80,80,80,0)"},{"offset":0.486,"color":"rgba(80,80,80,0)"},
{"offset":0.4875,"color":"#505050"},{"offset":0.489,"color":"rgba(80,80,80,0)"},{"offset":0.4985,"color":"rgba(80,80,80,0)"},
{"offset":0.5,"color":"#505050"},{"offset":0.5015,"color":"rgba(80,80,80,0)"},{"offset":0.511,"color":"rgba(80,80,80,0)"},
{"offset":0.5125,"color":"#505050"},{"offset":0.514,"color":"rgba(80,80,80,0)"},{"offset":0.5235,"color":"rgba(80,80,80,0)"},
{"offset":0.525,"color":"#505050"},{"offset":0.5265,"color":"rgba(80,80,80,0)"},{"offset":0.536,"color":"rgba(80,80,80,0)"},
{"offset":0.5375,"color":"#505050"},{"offset":0.539,"color":"rgba(80,80,80,0)"},{"offset":0.5485,"color":"rgba(80,80,80,0)"},
{"offset":0.55,"color":"#505050"},{"offset":0.5515,"color":"rgba(80,80,80,0)"},{"offset":0.561,"color":"rgba(80,80,80,0)"},
{"offset":0.5625,"color":"#505050"},{"offset":0.564,"color":"rgba(80,80,80,0)"},{"offset":0.5735,"color":"rgba(80,80,80,0)"},
{"offset":0.575,"color":"#505050"},{"offset":0.5765,"color":"rgba(80,80,80,0)"},{"offset":0.586,"color":"rgba(80,80,80,0)"},
{"offset":0.5875,"color":"#505050"},{"offset":0.589,"color":"rgba(80,80,80,0)"},{"offset":0.5985,"color":"rgba(80,80,80,0)"},
{"offset":0.6,"color":"#505050"},{"offset":0.6015,"color":"rgba(80,80,80,0)"},{"offset":0.611,"color":"rgba(80,80,80,0)"},
{"offset":0.6125,"color":"#505050"},{"offset":0.614,"color":"rgba(80,80,80,0)"},{"offset":0.6235,"color":"rgba(80,80,80,0)"},
{"offset":0.625,"color":"#505050"},{"offset":0.6265,"color":"rgba(80,80,80,0)"},{"offset":0.636,"color":"rgba(80,80,80,0)"},
{"offset":0.6375,"color":"#505050"},{"offset":0.639,"color":"rgba(80,80,80,0)"},{"offset":0.6485,"color":"rgba(80,80,80,0)"},
{"offset":0.65,"color":"#505050"},{"offset":0.6515,"color":"rgba(80,80,80,0)"},{"offset":0.661,"color":"rgba(80,80,80,0)"},
{"offset":0.6625,"color":"#505050"},{"offset":0.664,"color":"rgba(80,80,80,0)"},{"offset":0.6735,"color":"rgba(80,80,80,0)"},
{"offset":0.675,"color":"#505050"},{"offset":0.6765,"color":"rgba(80,80,80,0)"},{"offset":0.686,"color":"rgba(80,80,80,0)"},
{"offset":0.6875,"color":"#505050"},{"offset":0.689,"color":"rgba(80,80,80,0)"},{"offset":0.6985,"color":"rgba(80,80,80,0)"},
{"offset":0.7,"color":"#505050"},{"offset":0.7015,"color":"rgba(80,80,80,0)"},{"offset":0.711,"color":"rgba(80,80,80,0)"},
{"offset":0.7125,"color":"#505050"},{"offset":0.714,"color":"rgba(80,80,80,0)"},{"offset":0.7235,"color":"rgba(80,80,80,0)"},
{"offset":0.725,"color":"#505050"},{"offset":0.7265,"color":"rgba(80,80,80,0)"},{"offset":0.736,"color":"rgba(80,80,80,0)"},
{"offset":0.7375,"color":"#505050"},{"offset":0.739,"color":"rgba(80,80,80,0)"},{"offset":0.7485,"color":"rgba(80,80,80,0)"},
{"offset":0.75,"color":"#505050"},{"offset":0.7515,"color":"rgba(80,80,80,0)"},{"offset":0.761,"color":"rgba(80,80,80,0)"},
{"offset":0.7625,"color":"#505050"},{"offset":0.764,"color":"rgba(80,80,80,0)"},{"offset":0.7735,"color":"rgba(80,80,80,0)"},
{"offset":0.775,"color":"#505050"},{"offset":0.7765,"color":"rgba(80,80,80,0)"},{"offset":0.786,"color":"rgba(80,80,80,0)"},
{"offset":0.7875,"color":"#505050"},{"offset":0.789,"color":"rgba(80,80,80,0)"},{"offset":0.7985,"color":"rgba(80,80,80,0)"},
{"offset":0.8,"color":"#505050"},{"offset":0.8015,"color":"rgba(80,80,80,0)"},{"offset":0.811,"color":"rgba(80,80,80,0)"},
{"offset":0.8125,"color":"#505050"},{"offset":0.814,"color":"rgba(80,80,80,0)"},{"offset":0.8235,"color":"rgba(80,80,80,0)"},
{"offset":0.825,"color":"#505050"},{"offset":0.8265,"color":"rgba(80,80,80,0)"},{"offset":0.836,"color":"rgba(80,80,80,0)"},
{"offset":0.8375,"color":"#505050"},{"offset":0.839,"color":"rgba(80,80,80,0)"},{"offset":0.8485,"color":"rgba(80,80,80,0)"},
{"offset":0.85,"color":"#505050"},{"offset":0.8515,"color":"rgba(80,80,80,0)"},{"offset":0.861,"color":"rgba(80,80,80,0)"},
{"offset":0.8625,"color":"#505050"},{"offset":0.864,"color":"rgba(80,80,80,0)"},{"offset":0.8735,"color":"rgba(80,80,80,0)"},
{"offset":0.875,"color":"#505050"},{"offset":0.8765,"color":"rgba(80,80,80,0)"},{"offset":0.886,"color":"rgba(80,80,80,0)"},
{"offset":0.8875,"color":"#505050"},{"offset":0.889,"color":"rgba(80,80,80,0)"},{"offset":0.8985,"color":"rgba(80,80,80,0)"},
{"offset":0.9,"color":"#505050"},{"offset":0.9015,"color":"rgba(80,80,80,0)"},{"offset":0.911,"color":"rgba(80,80,80,0)"},
{"offset":0.9125,"color":"#505050"},{"offset":0.914,"color":"rgba(80,80,80,0)"},{"offset":0.9235,"color":"rgba(80,80,80,0)"},
{"offset":0.925,"color":"#505050"},{"offset":0.9265,"color":"rgba(80,80,80,0)"},{"offset":0.936,"color":"rgba(80,80,80,0)"},
{"offset":0.9375,"color":"#505050"},{"offset":0.939,"color":"rgba(80,80,80,0)"},{"offset":0.9485,"color":"rgba(80,80,80,0)"},
{"offset":0.95,"color":"#505050"},{"offset":0.9515,"color":"rgba(80,80,80,0)"},{"offset":0.961,"color":"rgba(80,80,80,0)"},
{"offset":0.9625,"color":"#505050"},{"offset":0.964,"color":"rgba(80,80,80,0)"},{"offset":0.9735,"color":"rgba(80,80,80,0)"},
{"offset":0.975,"color":"#505050"},{"offset":0.9765,"color":"rgba(80,80,80,0)"},{"offset":1,"color":"rgba(80,80,80,0)"}]}},"encoding":{"x":{"field":"x","type":"quantitative","scale":{"domain":[17.1128,19.13292],"nice":false,"zero":false},"axis":null},"y":{"field":"lo","type":"quantitative","scale":{"domain":[8.86,106.97],"nice":false,"zero":false},"axis":null},"y2":{"field":"hi"}}},
{"data":{"values":[{}]},"mark":{"type":"rect","fillOpacity":0,"stroke":"#8c8c8c","strokeWidth":1.5},"encoding":{"x":{"datum":18.2,"type":"quantitative","scale":{"domain":[17.1128,19.13292],"nice":false,"zero":false},"axis":null},"x2":{"datum":19.1},"y":{"datum":18.155,"type":"quantitative","scale":{"domain":[8.86,106.97],"nice":false,"zero":false},"axis":null},"y2":{"datum":98.92}}},
{"data":{"values":[{}]},"mark":{"type":"rule","color":"#222222","strokeWidth":1.5},"encoding":{"x":{"datum":18.2,"type":"quantitative","scale":{"domain":[17.1128,19.13292],"nice":false,"zero":false},"axis":null},"y":{"datum":18.155,"type":"quantitative","scale":{"domain":[8.86,106.97],"nice":false,"zero":false},"axis":null},"y2":{"datum":98.92}}},
{"data":{"values":[{}]},"mark":{"type":"rule","color":"#222222","strokeWidth":1.5},"encoding":{"x":{"datum":18.2,"type":"quantitative","scale":{"domain":[17.1128,19.13292],"nice":false,"zero":false},"axis":null},"x2":{"datum":19.1},"y":{"datum":18.155,"type":"quantitative","scale":{"domain":[8.86,106.97],"nice":false,"zero":false},"axis":null}}},
{"data":{"name":"sigma_points"},"mark":{"type":"rule","strokeWidth":1.5},"encoding":{
"x":{"field":"x","type":"quantitative","scale":{"domain":[17.1128,19.13292],"nice":false,"zero":false},"axis":{"zindex":1,"orient":"top","offset":-640,"values":[18.22,18.24,18.26,18.28,18.32,18.34,18.36,18.38,18.42,18.44,18.46,18.48,18.52,18.54,18.56,18.58,18.62,18.64,18.66,18.68,18.72,18.74,18.76,18.78,18.82,18.84,18.86,18.88,18.92,18.94,18.96,18.98,19.02,19.04,19.06,19.08],"labels":false,"domain":false,"grid":false,"ticks":true,"tickSize":8,"tickColor":"#000000","tickWidth":1.2,"title":null}},
"y":{"field":"lo","type":"quantitative","scale":{"domain":[8.86,106.97],"nice":false,"zero":false},"axis":{"zindex":1,"orient":"right","offset":-907,"values":[22,24,26,28,32,34,36,38,42,44,46,48,52,54,56,58,62,64,66,68,72,74,76,78,82,84,86,88,92,94,96,98],"labels":false,"domain":false,"grid":false,"ticks":true,"tickSize":13,"tickColor":"#000000","tickWidth":1.2,"title":null}},
"y2":{"field":"hi"},
"stroke":{"field":"series","type":"nominal","scale":{"domain":["data","QGSJET II-04 proton","QGSJET II-04 helium","QGSJET II-04 nitrogen","QGSJET II-04 iron"],"range":["#111111","#e82020","#e020e0","#f07020","#2020e0"]},"legend":null}}},
{"data":{"name":"sigma_points"},"mark":{"type":"point","filled":true,"size":175,"opacity":1},"encoding":{
"x":{"field":"x","type":"quantitative","scale":{"domain":[17.1128,19.13292],"nice":false,"zero":false},"axis":{"zindex":1,"orient":"bottom","offset":-67,"values":[18.2,18.3,18.4,18.5,18.6,18.7,18.8,18.9,19,19.1],"format":"~g","ticks":false,"labelFont":"Liberation Sans","labelFontSize":28,"labelFontWeight":"bold","labelColor":"#000000","labelPadding":5,"labelFlush":false,"labelOverlap":false,"labelBound":false,"domain":false,"grid":false,"title":"log₁₀(E/eV)","titleFont":"Liberation Sans, DejaVu Sans","titleFontSize":28,"titleFontWeight":"bold","titleColor":"#000000","titleAlign":"right","titleBaseline":"alphabetic","titleAngle":0,"titleX":1935,"titleY":54}},
"y":{"field":"y","type":"quantitative","scale":{"domain":[8.86,106.97],"nice":false,"zero":false},"axis":{"zindex":1,"orient":"left","offset":-1057,"values":[20,30,40,50,60,70,80,90],"format":"d","ticks":false,"labelFont":"Liberation Sans","labelFontSize":28,"labelFontWeight":"bold","labelColor":"#000000","labelPadding":7,"labelFlush":false,"labelOverlap":false,"labelBound":false,"domain":false,"grid":false,"title":null}},
"color":{"field":"series","type":"nominal","scale":{"domain":["data","QGSJET II-04 proton","QGSJET II-04 helium","QGSJET II-04 nitrogen","QGSJET II-04 iron"],"range":["#000000","#ee1111","#ee11ee","#f26b14","#1212ee"]},"legend":null},
"shape":{"field":"series","type":"nominal","scale":{"domain":["data","QGSJET II-04 proton","QGSJET II-04 helium","QGSJET II-04 nitrogen","QGSJET II-04 iron"],"range":["M0,-1L0.2245,-0.309L0.9511,-0.309L0.3633,0.118L0.5878,0.809L0,0.382L-0.5878,0.809L-0.3633,0.118L-0.9511,-0.309L-0.2245,-0.309Z","circle","circle","circle","circle"]},"legend":null}}},
{"data":{"values":[{}]},"mark":{"type":"text","text":"σ(Xₘₐₓ) (g/cm²)","angle":270,"font":"Liberation Sans, DejaVu Sans","fontSize":27,"fontWeight":"bold","color":"#000000","align":"center","baseline":"middle"},"encoding":{"x":{"datum":18.12903,"type":"quantitative","scale":{"domain":[17.1128,19.13292],"nice":false,"zero":false},"axis":null},"y":{"datum":86.362,"type":"quantitative","scale":{"domain":[8.86,106.97],"nice":false,"zero":false},"axis":null}}},
{"data":{"values":[{}]},"mark":{"type":"point","filled":true,"opacity":1,"size":182,"color":"#000000","shape":"M0,-1L0.2245,-0.309L0.9511,-0.309L0.3633,0.118L0.5878,0.809L0,0.382L-0.5878,0.809L-0.3633,0.118L-0.9511,-0.309L-0.2245,-0.309Z"},"encoding":{"x":{"datum":18.32652,"type":"quantitative","scale":{"domain":[17.1128,19.13292],"nice":false,"zero":false},"axis":null},"y":{"datum":95.077,"type":"quantitative","scale":{"domain":[8.86,106.97],"nice":false,"zero":false},"axis":null}}},
{"data":{"values":[{}]},"mark":{"type":"point","filled":true,"opacity":1,"size":182,"color":"#ee1111","shape":"circle"},"encoding":{"x":{"datum":18.32652,"type":"quantitative","scale":{"domain":[17.1128,19.13292],"nice":false,"zero":false},"axis":null},"y":{"datum":90.414,"type":"quantitative","scale":{"domain":[8.86,106.97],"nice":false,"zero":false},"axis":null}}},
{"data":{"values":[{}]},"mark":{"type":"point","filled":true,"opacity":1,"size":182,"color":"#ee11ee","shape":"circle"},"encoding":{"x":{"datum":18.32652,"type":"quantitative","scale":{"domain":[17.1128,19.13292],"nice":false,"zero":false},"axis":null},"y":{"datum":85.751,"type":"quantitative","scale":{"domain":[8.86,106.97],"nice":false,"zero":false},"axis":null}}},
{"data":{"values":[{}]},"mark":{"type":"point","filled":true,"opacity":1,"size":182,"color":"#f26b14","shape":"circle"},"encoding":{"x":{"datum":18.32652,"type":"quantitative","scale":{"domain":[17.1128,19.13292],"nice":false,"zero":false},"axis":null},"y":{"datum":81.089,"type":"quantitative","scale":{"domain":[8.86,106.97],"nice":false,"zero":false},"axis":null}}},
{"data":{"values":[{}]},"mark":{"type":"point","filled":true,"opacity":1,"size":182,"color":"#1212ee","shape":"circle"},"encoding":{"x":{"datum":18.32652,"type":"quantitative","scale":{"domain":[17.1128,19.13292],"nice":false,"zero":false},"axis":null},"y":{"datum":76.426,"type":"quantitative","scale":{"domain":[8.86,106.97],"nice":false,"zero":false},"axis":null}}},
{"data":{"values":[{}]},"mark":{"type":"text","text":["data","QGSJET II-04 proton","QGSJET II-04 helium","QGSJET II-04 nitrogen","QGSJET II-04 iron"],"lineHeight":33.6,"font":"Liberation Sans","fontSize":25,"fontWeight":"bold","color":"#000000","align":"left","baseline":"alphabetic"},"encoding":{"x":{"datum":18.3762,"type":"quantitative","scale":{"domain":[17.1128,19.13292],"nice":false,"zero":false},"axis":null},"y":{"datum":93.835,"type":"quantitative","scale":{"domain":[8.86,106.97],"nice":false,"zero":false},"axis":null}}},
{"data":{"values":[{}]},"mark":{"type":"text","text":"data sys.","font":"Liberation Sans","fontSize":25,"fontWeight":"bold","color":"#000000","align":"left","baseline":"alphabetic"},"encoding":{"x":{"datum":18.3762,"type":"quantitative","scale":{"domain":[17.1128,19.13292],"nice":false,"zero":false},"axis":null},"y":{"datum":70.792,"type":"quantitative","scale":{"domain":[8.86,106.97],"nice":false,"zero":false},"axis":null}}},
{"data":{"values":[{}]},"mark":{"type":"text","text":"92 events","font":"Lato","fontSize":32,"angle":270,"align":"center","baseline":"middle","color":"#000000"},"encoding":{"x":{"datum":18.95138,"type":"quantitative","scale":{"domain":[17.1128,19.13292],"nice":false,"zero":false},"axis":null},"y":{"datum":82.268,"type":"quantitative","scale":{"domain":[8.86,106.97],"nice":false,"zero":false},"axis":null}}},
{"data":{"values":[{}]},"mark":{"type":"text","text":"51 events","font":"Lato","fontSize":32,"angle":270,"align":"center","baseline":"middle","color":"#000000"},"encoding":{"x":{"datum":19.04807,"type":"quantitative","scale":{"domain":[17.1128,19.13292],"nice":false,"zero":false},"axis":null},"y":{"datum":87.209,"type":"quantitative","scale":{"domain":[8.86,106.97],"nice":false,"zero":false},"axis":null}}},
{"data":{"values":[{}]},"mark":{"type":"text","text":"σ (Xmax)","font":"Lato","fontSize":39,"color":"#ffffff","align":"center","baseline":"alphabetic"},"encoding":{"x":{"datum":18.42115,"type":"quantitative","scale":{"domain":[17.1128,19.13292],"nice":false,"zero":false},"axis":null},"y":{"datum":102.113,"type":"quantitative","scale":{"domain":[8.86,106.97],"nice":false,"zero":false},"axis":null}}},
{"data":{"values":[{}]},"mark":{"type":"rect","fill":{"gradient":"linear","x1":0,"y1":0,"x2":1.204,"y2":0.4332,"stops":[{"offset":0,"color":"rgba(70,70,70,0)"},{"offset":0.102,"color":"rgba(70,70,70,0)"},{"offset":0.12,"color":"rgb(70,70,70)"},{"offset":0.138,"color":"rgba(70,70,70,0)"},{"offset":0.342,"color":"rgba(70,70,70,0)"},{"offset":0.36,"color":"rgb(70,70,70)"},{"offset":0.378,"color":"rgba(70,70,70,0)"},{"offset":0.592,"color":"rgba(70,70,70,0)"},{"offset":0.61,"color":"rgb(70,70,70)"},{"offset":0.628,"color":"rgba(70,70,70,0)"},{"offset":0.832,"color":"rgba(70,70,70,0)"},{"offset":0.85,"color":"rgb(70,70,70)"},{"offset":0.868,"color":"rgba(70,70,70,0)"},{"offset":1,"color":"rgba(70,70,70,0)"}]}},"encoding":{"x":{"datum":18.29392,"type":"quantitative","scale":{"domain":[17.1128,19.13292],"nice":false,"zero":false},"axis":null},"x2":{"datum":18.36252},"y":{"datum":70.195,"type":"quantitative","scale":{"domain":[8.86,106.97],"nice":false,"zero":false},"axis":null},"y2":{"datum":73.526}}},
{"data":{"values":[{}]},"mark":{"type":"rect","stroke":"#555555","strokeWidth":1,"fill":{"gradient":"linear","x1":0,"y1":1,"x2":1.204,"y2":0.5668,"stops":[{"offset":0,"color":"rgba(70,70,70,0)"},{"offset":0.102,"color":"rgba(70,70,70,0)"},{"offset":0.12,"color":"rgb(70,70,70)"},{"offset":0.138,"color":"rgba(70,70,70,0)"},{"offset":0.342,"color":"rgba(70,70,70,0)"},{"offset":0.36,"color":"rgb(70,70,70)"},{"offset":0.378,"color":"rgba(70,70,70,0)"},{"offset":0.592,"color":"rgba(70,70,70,0)"},{"offset":0.61,"color":"rgb(70,70,70)"},{"offset":0.628,"color":"rgba(70,70,70,0)"},{"offset":0.832,"color":"rgba(70,70,70,0)"},{"offset":0.85,"color":"rgb(70,70,70)"},{"offset":0.868,"color":"rgba(70,70,70,0)"},{"offset":1,"color":"rgba(70,70,70,0)"}]}},"encoding":{"x":{"datum":18.29392,"type":"quantitative","scale":{"domain":[17.1128,19.13292],"nice":false,"zero":false},"axis":null},"x2":{"datum":18.36252},"y":{"datum":70.195,"type":"quantitative","scale":{"domain":[8.86,106.97],"nice":false,"zero":false},"axis":null},"y2":{"datum":73.526}}}
]
}
]
}
